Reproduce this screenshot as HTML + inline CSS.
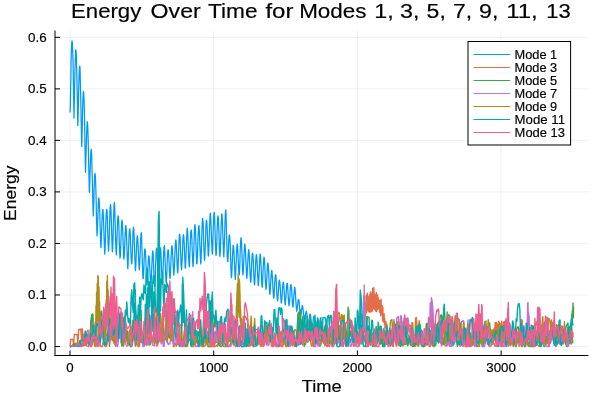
<!DOCTYPE html>
<html><head><meta charset="utf-8"><title>Energy Over Time</title>
<style>html,body{margin:0;padding:0;background:#fff;}svg{display:block;}</style></head>
<body>
<svg width="600" height="400" viewBox="0 0 600 400">
<defs><clipPath id="c"><rect x="55.0" y="30.5" width="533.4" height="325.0"/></clipPath></defs>
<rect width="600" height="400" fill="#fff"/>
<path d="M70.00,30.5V355.5M213.70,30.5V355.5M357.40,30.5V355.5M501.10,30.5V355.5M55.0,346.50H588.4M55.0,294.97H588.4M55.0,243.44H588.4M55.0,191.91H588.4M55.0,140.38H588.4M55.0,88.85H588.4M55.0,37.32H588.4" stroke="#000" stroke-opacity="0.1" stroke-width="0.6" fill="none"/>
<g fill="none" stroke-width="1.4" stroke-linejoin="round" stroke-linecap="butt" clip-path="url(#c)">
<path stroke="#009AFA" stroke-width="1.25" d="M70.0,112.5 70.3,106.5 70.6,90.2 70.9,74.9 71.1,61.6 71.4,50.9 71.7,43.6 72.0,40.8 72.3,42.2 72.6,47.9 72.9,57.3 73.2,70.0 73.4,85.1 73.7,101.5 74.0,118.2 74.3,102.9 74.6,87.9 74.9,74.2 75.2,62.7 75.5,54.3 75.7,49.8 76.0,50.2 76.3,55.2 76.6,64.4 76.9,77.0 77.2,92.1 77.5,108.5 77.8,125.5 78.0,122.2 78.3,108.0 78.6,94.4 78.9,82.4 79.2,73.0 79.5,67.3 79.8,66.1 80.1,70.3 80.3,78.9 80.6,91.2 80.9,106.2 81.2,122.5 81.5,138.8 81.8,146.5 82.1,134.0 82.4,121.4 82.6,109.6 82.9,100.0 83.2,93.6 83.5,91.4 83.8,94.2 84.1,101.5 84.4,112.8 84.7,126.8 84.9,142.4 85.2,157.9 85.5,172.3 85.8,163.6 86.1,152.4 86.4,141.4 86.7,131.8 87.0,124.9 87.2,121.7 87.5,122.7 87.8,128.1 88.1,137.4 88.4,149.9 88.7,164.1 89.0,178.6 89.3,192.1 89.5,192.3 89.8,182.4 90.1,172.0 90.4,162.2 90.7,154.5 91.0,149.9 91.3,149.4 91.6,153.0 91.8,160.5 92.1,171.2 92.4,183.8 92.7,196.9 93.0,209.1 93.3,215.9 93.6,208.0 93.9,198.8 94.1,189.5 94.4,181.3 94.7,175.6 95.0,173.4 95.3,175.3 95.6,181.3 95.9,190.7 96.2,202.2 96.4,214.5 96.7,226.1 97.0,235.8 97.3,231.8 97.6,223.8 97.9,215.1 98.2,207.1 98.5,201.1 98.7,198.0 99.0,198.6 99.3,202.6 99.6,209.1 99.9,218.0 100.2,228.2 100.5,238.1 100.8,246.7 101.0,247.7 101.3,240.7 101.6,232.2 101.9,223.7 102.2,216.2 102.5,211.2 102.8,209.4 103.1,211.2 103.3,215.7 103.6,223.1 103.9,232.1 104.2,241.4 104.5,249.5 104.8,254.2 105.1,248.2 105.4,239.6 105.6,230.1 105.9,221.0 106.2,213.8 106.5,209.7 106.8,209.4 107.1,212.7 107.4,219.3 107.6,227.9 107.9,237.2 108.2,245.4 108.5,251.2 108.8,248.2 109.1,240.8 109.4,231.4 109.7,221.5 109.9,212.7 110.2,206.6 110.5,204.5 110.8,206.9 111.1,213.4 111.4,222.7 111.7,233.3 112.0,243.2 112.2,250.7 112.5,251.8 112.8,245.1 113.1,235.6 113.4,224.6 113.7,214.2 114.0,206.2 114.3,202.3 114.5,203.5 114.8,210.3 115.1,220.3 115.4,231.6 115.7,242.3 116.0,250.5 116.3,254.9 116.6,250.5 116.8,243.2 117.1,234.4 117.4,225.9 117.7,219.2 118.0,215.9 118.3,216.3 118.6,219.9 118.9,226.8 119.1,235.6 119.4,244.8 119.7,252.7 120.0,258.1 120.3,256.6 120.6,250.7 120.9,242.7 121.2,234.1 121.4,226.6 121.7,221.6 122.0,220.0 122.3,222.3 122.6,227.9 122.9,235.7 123.2,244.3 123.5,252.0 123.7,257.7 124.0,259.2 124.3,255.2 124.6,248.8 124.9,241.2 125.2,233.8 125.5,228.1 125.8,225.4 126.0,226.3 126.3,230.7 126.6,238.1 126.9,247.1 127.2,256.2 127.5,263.8 127.8,268.6 128.1,264.6 128.3,257.6 128.6,249.0 128.9,240.5 129.2,233.6 129.5,229.5 129.8,228.9 130.1,231.5 130.4,237.2 130.6,244.7 130.9,252.6 131.2,259.4 131.5,263.9 131.8,263.6 132.1,258.5 132.4,251.2 132.7,242.9 132.9,235.1 133.2,229.5 133.5,227.1 133.8,228.8 134.1,234.8 134.4,243.2 134.7,252.6 135.0,261.4 135.2,268.1 135.5,270.6 135.8,265.9 136.1,258.9 136.4,251.0 136.7,243.6 137.0,238.2 137.3,235.7 137.5,236.5 137.8,239.6 138.1,245.4 138.4,252.6 138.7,259.9 139.0,266.0 139.3,269.8 139.6,267.7 139.8,262.3 140.1,254.8 140.4,246.5 140.7,239.1 141.0,234.0 141.3,232.7 141.6,236.7 141.8,244.2 142.1,253.6 142.4,263.6 142.7,272.3 143.0,278.5 143.3,278.7 143.6,273.9 143.9,267.2 144.1,260.0 144.4,253.7 144.7,249.8 145.0,248.8 145.3,250.4 145.6,255.0 145.9,261.8 146.2,269.5 146.4,276.7 146.7,282.4 147.0,284.8 147.3,281.4 147.6,275.9 147.9,269.4 148.2,263.2 148.5,258.4 148.7,255.9 149.0,256.3 149.3,258.7 149.6,263.7 149.9,270.2 150.2,277.1 150.5,283.1 150.8,287.0 151.0,285.0 151.3,279.6 151.6,272.3 151.9,264.5 152.2,257.4 152.5,252.6 152.8,250.8 153.1,252.7 153.3,257.8 153.6,265.2 153.9,273.4 154.2,280.8 154.5,286.2 154.8,286.6 155.1,281.4 155.4,273.9 155.6,265.3 155.9,257.2 156.2,251.1 156.5,248.1 156.8,249.1 157.1,253.5 157.4,260.7 157.7,269.1 157.9,277.2 158.2,283.6 158.5,286.8 158.8,282.5 159.1,275.7 159.4,267.3 159.7,259.0 160.0,252.2 160.2,248.2 160.5,247.8 160.8,250.9 161.1,256.9 161.4,264.8 161.7,272.9 162.0,279.9 162.3,284.4 162.5,282.5 162.8,276.6 163.1,268.7 163.4,260.2 163.7,252.6 164.0,247.4 164.3,245.5 164.6,247.8 164.8,253.3 165.1,260.9 165.4,269.1 165.7,276.5 166.0,281.8 166.3,282.8 166.6,277.9 166.9,271.2 167.1,263.7 167.4,256.8 167.7,251.9 168.0,249.7 168.3,249.9 168.6,253.1 168.9,258.4 169.2,264.8 169.4,271.1 169.7,276.0 170.0,278.7 170.3,275.5 170.6,270.0 170.9,263.2 171.2,256.2 171.5,250.4 171.7,246.7 172.0,245.7 172.3,247.8 172.6,252.4 172.9,258.6 173.2,265.3 173.5,271.2 173.8,275.1 174.0,274.0 174.3,269.0 174.6,262.0 174.9,254.4 175.2,247.3 175.5,242.2 175.8,240.0 176.1,241.0 176.3,245.2 176.6,251.6 176.9,259.1 177.2,266.1 177.5,271.4 177.8,272.8 178.1,268.1 178.3,260.9 178.6,252.5 178.9,244.3 179.2,237.7 179.5,234.1 179.8,234.5 180.1,238.4 180.4,244.8 180.6,252.6 180.9,260.2 181.2,266.3 181.5,269.8 181.8,266.9 182.1,261.1 182.4,253.7 182.7,246.2 182.9,239.9 183.2,236.0 183.5,234.6 183.8,236.6 184.1,241.6 184.4,248.6 184.7,256.3 185.0,263.3 185.2,268.2 185.5,267.6 185.8,262.0 186.1,254.2 186.4,245.3 186.7,237.1 187.0,230.9 187.3,228.0 187.5,229.6 187.8,234.7 188.1,242.2 188.4,250.8 188.7,258.7 189.0,264.7 189.3,267.0 189.6,262.6 189.8,255.8 190.1,247.7 190.4,239.8 190.7,233.7 191.0,230.4 191.3,230.1 191.6,233.2 191.9,239.3 192.1,247.2 192.4,255.3 192.7,262.2 193.0,266.6 193.3,263.8 193.6,257.2 193.9,248.6 194.2,239.5 194.4,231.4 194.7,226.0 195.0,224.7 195.3,227.3 195.6,233.4 195.9,241.6 196.2,250.5 196.5,258.3 196.7,263.8 197.0,263.9 197.3,258.5 197.6,250.9 197.9,242.3 198.2,234.4 198.5,228.7 198.8,225.6 199.0,226.1 199.3,230.3 199.6,237.3 199.9,245.9 200.2,254.3 200.5,260.9 200.8,264.0 201.1,259.1 201.3,251.2 201.6,241.5 201.9,231.8 202.2,223.7 202.5,218.7 202.8,218.6 203.1,222.6 203.4,229.9 203.6,238.9 203.9,248.0 204.2,255.6 204.5,260.3 204.8,258.0 205.1,251.5 205.4,243.2 205.7,234.6 205.9,227.1 206.2,222.3 206.5,220.2 206.8,221.7 207.1,226.7 207.4,234.0 207.7,242.3 208.0,249.9 208.2,255.4 208.5,256.0 208.8,250.4 209.1,242.2 209.4,232.7 209.7,223.6 210.0,216.4 210.3,213.1 210.5,213.9 210.8,218.5 211.1,226.0 211.4,234.8 211.7,243.4 212.0,250.1 212.3,254.1 212.6,250.0 212.8,243.0 213.1,234.1 213.4,225.1 213.7,217.5 214.0,212.9 214.3,212.5 214.6,216.3 214.8,223.4 215.1,232.5 215.4,241.9 215.7,250.0 216.0,255.5 216.3,254.1 216.6,248.0 216.9,239.8 217.1,231.0 217.4,223.2 217.7,218.0 218.0,215.9 218.3,217.6 218.6,223.0 218.9,231.0 219.2,240.1 219.4,248.6 219.7,254.9 220.0,256.5 220.3,251.2 220.6,243.2 220.9,233.9 221.2,224.8 221.5,217.7 221.7,214.0 222.0,214.3 222.3,218.6 222.6,226.0 222.9,235.3 223.2,244.6 223.5,252.2 223.8,256.9 224.0,253.2 224.3,245.8 224.6,236.1 224.9,225.8 225.2,216.9 225.5,211.1 225.8,209.8 226.1,215.3 226.3,224.4 226.6,235.3 226.9,246.1 227.2,255.2 227.5,261.2 227.8,261.7 228.1,257.3 228.4,251.0 228.6,244.2 228.9,238.5 229.2,235.2 229.5,235.0 229.8,237.2 230.1,242.6 230.4,250.5 230.7,259.5 230.9,268.2 231.2,275.3 231.5,277.6 231.8,273.4 232.1,267.0 232.4,259.7 232.7,252.8 233.0,247.6 233.2,245.3 233.5,245.5 233.8,248.8 234.1,254.6 234.4,262.0 234.7,269.5 235.0,275.8 235.3,279.5 235.5,276.7 235.8,270.9 236.1,263.6 236.4,256.0 236.7,249.6 237.0,245.6 237.3,244.1 237.6,245.8 237.8,250.4 238.1,256.9 238.4,264.0 238.7,270.4 239.0,274.9 239.3,274.7 239.6,269.7 239.9,262.5 240.1,254.2 240.4,246.4 240.7,240.5 241.0,237.6 241.3,239.2 241.6,244.1 241.9,251.2 242.2,259.3 242.4,266.7 242.7,272.2 243.0,274.9 243.3,271.4 243.6,265.7 243.9,258.9 244.2,252.2 244.5,246.9 244.7,244.2 245.0,244.5 245.3,247.9 245.6,253.7 245.9,260.9 246.2,268.2 246.5,274.3 246.8,278.3 247.0,276.8 247.3,272.2 247.6,266.1 247.9,259.7 248.2,254.2 248.5,250.7 248.8,249.7 249.1,251.8 249.3,256.5 249.6,263.0 249.9,270.2 250.2,276.7 250.5,281.5 250.8,282.1 251.1,278.2 251.3,272.3 251.6,265.7 251.9,259.6 252.2,255.1 252.5,253.1 252.8,253.9 253.1,257.6 253.4,263.4 253.6,270.2 253.9,276.9 254.2,282.2 254.5,285.0 254.8,281.8 255.1,276.5 255.4,270.0 255.7,263.5 255.9,258.2 256.2,255.1 256.5,254.7 256.8,257.2 257.1,262.2 257.4,268.8 257.7,275.7 258.0,281.6 258.2,285.6 258.5,284.4 258.8,279.6 259.1,273.1 259.4,266.1 259.7,259.7 260.0,255.3 260.3,254.0 260.5,255.8 260.8,260.5 261.1,267.2 261.4,274.5 261.7,281.2 262.0,286.2 262.3,287.3 262.6,283.3 262.8,277.4 263.1,270.6 263.4,264.2 263.7,259.4 264.0,257.2 264.3,258.1 264.6,261.8 264.9,267.6 265.1,274.3 265.4,280.8 265.7,286.0 266.0,289.4 266.3,287.0 266.6,282.5 266.9,276.7 267.2,270.8 267.4,266.0 267.7,263.2 268.0,263.2 268.3,265.9 268.6,271.0 268.9,277.5 269.2,284.2 269.5,290.1 269.7,294.2 270.0,293.8 270.3,290.1 270.6,284.9 270.9,279.4 271.2,274.5 271.5,271.4 271.8,270.3 272.0,271.7 272.3,275.5 272.6,280.9 272.9,287.0 273.2,292.7 273.5,297.0 273.8,298.4 274.1,295.5 274.3,290.9 274.6,285.6 274.9,280.5 275.2,276.6 275.5,274.7 275.8,275.3 276.1,278.2 276.4,282.9 276.6,288.4 276.9,293.9 277.2,298.3 277.5,301.0 277.8,299.4 278.1,295.8 278.4,291.3 278.7,286.6 278.9,282.8 279.2,280.6 279.5,280.2 279.8,281.9 280.1,285.4 280.4,290.1 280.7,295.2 281.0,299.7 281.2,302.9 281.5,302.9 281.8,299.8 282.1,295.5 282.4,290.8 282.7,286.4 283.0,283.4 283.3,282.1 283.5,282.9 283.8,285.7 284.1,290.0 284.4,295.0 284.7,299.7 285.0,303.3 285.3,304.8 285.5,302.3 285.8,298.4 286.1,293.7 286.4,289.0 286.7,285.3 287.0,283.3 287.3,283.4 287.6,285.6 287.8,289.4 288.1,294.3 288.4,299.1 288.7,303.2 289.0,305.8 289.3,304.5 289.6,301.1 289.9,296.7 290.1,292.0 290.4,287.9 290.7,285.3 291.0,284.6 291.3,286.1 291.6,289.4 291.9,294.0 292.2,298.9 292.4,303.3 292.7,306.5 293.0,307.0 293.3,304.3 293.6,300.2 293.9,295.5 294.2,291.1 294.5,287.8 294.7,287.1 295.0,288.7 295.3,292.0 295.6,296.6 295.9,301.5 296.2,306.0 296.5,309.4 296.8,311.3 297.0,310.0 297.3,307.6 297.6,304.8 297.9,302.2 298.2,300.4 298.5,299.4 298.8,299.7 299.1,301.5 299.3,304.5 299.6,308.2 299.9,312.0 300.2,315.3 300.5,317.4 300.8,317.0 301.1,315.0 301.4,312.4 301.6,309.6 301.9,307.3 302.2,305.9 302.5,305.8 302.8,306.9 303.1,309.2 303.4,312.2 303.7,315.5 303.9,318.4 304.2,320.6 304.5,321.2 304.8,319.9 305.1,317.9 305.4,315.6 305.7,313.4 306.0,311.9 306.2,311.2 306.5,311.7 306.8,313.3 307.1,315.8 307.4,318.8 307.7,321.7 308.0,324.0 308.3,325.4 308.5,324.3 308.8,322.3 309.1,319.9 309.4,317.4 309.7,315.3 310.0,314.1 310.3,314.1 310.6,315.3 310.8,317.4 311.1,320.2 311.4,323.1 311.7,325.6 312.0,327.3 312.3,327.1 312.6,325.5 312.9,323.1 313.1,320.5 313.4,318.2 313.7,316.6 314.0,316.1 314.3,316.8 314.6,318.6 314.9,321.3 315.2,324.3 315.4,327.1 315.7,329.3 316.0,330.0 316.3,328.5 316.6,326.2 316.9,323.4 317.2,320.8 317.5,318.7 317.7,317.8 318.0,318.3 318.3,319.9 318.6,322.4 318.9,325.4 319.2,328.4 319.5,330.7 319.8,332.2 320.0,331.3 320.3,329.4 320.6,327.1 320.9,324.7 321.2,322.8 321.5,321.8 321.8,321.8 322.0,322.9 322.3,324.8 322.6,327.3 322.9,330.0 323.2,332.2 323.5,333.8 323.8,333.8 324.1,332.5 324.3,330.5 324.6,328.4 324.9,326.5 325.2,325.3 325.5,324.9 325.8,325.5 326.1,327.0 326.4,329.1 326.6,331.4 326.9,333.6 327.2,335.2 327.5,335.9 327.8,334.9 328.1,333.4 328.4,331.6 328.7,329.8 328.9,328.5 329.2,327.8 329.5,328.0 329.8,329.0 330.1,330.7 330.4,332.7 330.7,334.7 331.0,336.3 331.2,337.4 331.5,336.9 331.8,335.7 332.1,334.1 332.4,332.4 332.7,331.0 333.0,330.1 333.3,330.0 333.5,330.7 333.8,332.1 334.1,333.9 334.4,335.8 334.7,337.4 335.0,338.7 335.3,338.7 335.6,337.7 335.8,336.2 336.1,334.6 336.4,333.0 336.7,331.9 337.0,331.4 337.3,331.7 337.6,332.7 337.9,334.3 338.1,336.0 338.4,337.7 338.7,339.1 339.0,339.7 339.3,338.9 339.6,337.6 339.9,335.9 340.2,334.3 340.4,333.0 340.7,332.3 341.0,332.3 341.3,333.0 341.6,334.4 341.9,336.2 342.2,337.9 342.5,339.4 342.7,340.4 343.0,340.1 343.3,338.9 343.6,337.3 343.9,335.6 344.2,334.2 344.5,333.2 344.8,333.0 345.0,333.5 345.3,334.6 345.6,336.3 345.9,338.1 346.2,339.7 346.5,340.9 346.8,341.1 347.1,340.1 347.3,338.7 347.6,337.0 347.9,335.4 348.2,334.3 348.5,333.7 348.8,334.0 349.1,334.9 349.4,336.4 349.6,338.2 349.9,339.9 350.2,341.3 350.5,342.0 350.8,341.2 351.1,339.9 351.4,338.2 351.7,336.5 351.9,335.2 352.2,334.4 352.5,334.3 352.8,335.0 353.1,336.3 353.4,337.9 353.7,339.7 354.0,341.1 354.2,342.1 354.5,341.9 354.8,340.7 355.1,339.2 355.4,337.5 355.7,336.0 356.0,335.0 356.3,334.6 356.5,335.0 356.8,336.1 357.1,337.7 357.4,339.4 357.7,341.0 358.0,342.1 358.3,342.4 358.5,341.5 358.8,340.1 359.1,338.4 359.4,336.8 359.7,335.6 360.0,335.0 360.3,335.2 360.6,336.0 360.8,337.4 361.1,339.1 361.4,340.7 361.7,342.1 362.0,342.9 362.3,342.2 362.6,340.9 362.9,339.4 363.1,337.7 363.4,336.4 363.7,335.6 364.0,335.4 364.3,336.0 364.6,337.2 364.9,338.8 365.2,340.5 365.4,342.0 365.7,343.0 366.0,342.8 366.3,341.8 366.6,340.3 366.9,338.7 367.2,337.2 367.5,336.2 367.7,335.8 368.0,336.1 368.3,337.1 368.6,338.6 368.9,340.2 369.2,341.8 369.5,343.0 369.8,343.4 370.0,342.5 370.3,341.1 370.6,339.5 370.9,338.0 371.2,336.8 371.5,336.1 371.8,336.2 372.1,336.9 372.3,338.2 372.6,339.8 372.9,341.4 373.2,342.7 373.5,343.5 373.8,342.9 374.1,341.7 374.4,340.2 374.6,338.6 374.9,337.3 375.2,336.4 375.5,336.2 375.8,336.7 376.1,337.8 376.4,339.3 376.7,340.9 376.9,342.3 377.2,343.3 377.5,343.3 377.8,342.3 378.1,340.9 378.4,339.3 378.7,337.8 379.0,336.8 379.2,336.3 379.5,336.6 379.8,337.5 380.1,338.8 380.4,340.4 380.7,341.9 381.0,343.1 381.3,343.6 381.5,342.8 381.8,341.5 382.1,340.0 382.4,338.4 382.7,337.2 383.0,336.5 383.3,336.5 383.6,337.2 383.8,338.4 384.1,340.0 384.4,341.5 384.7,342.8 385.0,343.7 385.3,343.2 385.6,342.1 385.9,340.6 386.1,339.1 386.4,337.7 386.7,336.8 387.0,336.6 387.3,337.0 387.6,338.0 387.9,339.5 388.2,341.1 388.4,342.5 388.7,343.5 389.0,343.6 389.3,342.6 389.6,341.3 389.9,339.7 390.2,338.3 390.5,337.2 390.7,336.7 391.0,336.9 391.3,337.7 391.6,339.0 391.9,340.6 392.2,342.1 392.5,343.2 392.8,343.8 393.0,343.1 393.3,341.9 393.6,340.4 393.9,338.9 394.2,337.6 394.5,336.9 394.8,336.9 395.0,337.5 395.3,338.6 395.6,340.1 395.9,341.6 396.2,342.9 396.5,343.8 396.8,343.5 397.1,342.4 397.3,341.0 397.6,339.5 397.9,338.2 398.2,337.2 398.5,337.0 398.8,337.3 399.1,338.3 399.4,339.7 399.6,341.2 399.9,342.6 400.2,343.6 400.5,343.8 400.8,342.9 401.1,341.6 401.4,340.0 401.7,338.5 401.9,337.4 402.2,336.8 402.5,336.9 402.8,337.7 403.1,338.9 403.4,340.4 403.7,341.9 404.0,343.1 404.2,343.9 404.5,343.1 404.8,341.9 405.1,340.3 405.4,338.7 405.7,337.4 406.0,336.6 406.3,336.4 406.5,337.0 406.8,338.1 407.1,339.6 407.4,341.2 407.7,342.6 408.0,343.5 408.3,343.3 408.6,342.2 408.8,340.7 409.1,339.0 409.4,337.5 409.7,336.4 410.0,336.0 410.3,336.3 410.6,337.3 410.9,338.7 411.1,340.4 411.4,342.0 411.7,343.1 412.0,343.4 412.3,342.5 412.6,341.0 412.9,339.3 413.2,337.7 413.4,336.4 413.7,335.7 414.0,335.7 414.3,336.5 414.6,337.9 414.9,339.5 415.2,341.2 415.5,342.6 415.7,343.4 416.0,342.8 416.3,341.4 416.6,339.7 416.9,338.0 417.2,336.4 417.5,335.5 417.8,335.2 418.0,335.8 418.3,337.0 418.6,338.6 418.9,340.4 419.2,342.0 419.5,343.1 419.8,343.0 420.1,341.8 420.3,340.1 420.6,338.3 420.9,336.6 421.2,335.4 421.5,334.9 421.8,335.1 422.1,336.2 422.4,337.7 422.6,339.5 422.9,341.3 423.2,342.6 423.5,343.1 423.8,342.1 424.1,340.6 424.4,338.7 424.7,336.9 424.9,335.4 425.2,334.6 425.5,334.6 425.8,335.4 426.1,336.8 426.4,338.6 426.7,340.5 427.0,342.0 427.2,343.0 427.5,342.4 427.8,341.0 428.1,339.1 428.4,337.2 428.7,335.5 429.0,334.4 429.2,334.1 429.5,334.6 429.8,335.9 430.1,337.7 430.4,339.7 430.7,341.4 431.0,342.7 431.3,342.7 431.5,341.5 431.8,339.8 432.1,337.9 432.4,336.2 432.7,334.9 433.0,334.3 433.3,334.6 433.6,335.7 433.8,337.3 434.1,339.2 434.4,341.0 434.7,342.4 435.0,343.1 435.3,342.2 435.6,340.7 435.9,338.9 436.1,337.1 436.4,335.6 436.7,334.8 437.0,334.8 437.3,335.5 437.6,337.0 437.9,338.8 438.2,340.6 438.4,342.1 438.7,343.1 439.0,342.7 439.3,341.5 439.6,339.8 439.9,338.0 440.2,336.4 440.5,335.4 440.7,335.1 441.0,335.6 441.3,336.7 441.6,338.4 441.9,340.2 442.2,341.8 442.5,343.0 442.8,343.2 443.0,342.2 443.3,340.6 443.6,338.9 443.9,337.3 444.2,336.0 444.5,335.5 444.8,335.7 445.1,336.6 445.3,338.0 445.6,339.8 445.9,341.5 446.2,342.8 446.5,343.5 446.8,342.7 447.1,341.4 447.4,339.8 447.6,338.1 447.9,336.8 448.2,336.0 448.5,335.9 448.8,336.5 449.1,337.8 449.4,339.4 449.7,341.1 449.9,342.5 450.2,343.5 450.5,343.2 450.8,342.1 451.1,340.6 451.4,339.0 451.7,337.5 452.0,336.6 452.2,336.2 452.5,336.6 452.8,337.6 453.1,339.1 453.4,340.7 453.7,342.2 454.0,343.4 454.3,343.6 454.5,342.8 454.8,341.4 455.1,339.8 455.4,338.3 455.7,337.2 456.0,336.6 456.3,336.8 456.6,337.5 456.8,338.8 457.1,340.4 457.4,341.9 457.7,343.2 458.0,343.9 458.3,343.3 458.6,342.1 458.9,340.7 459.1,339.2 459.4,337.9 459.7,337.2 460.0,337.0 460.3,337.5 460.6,338.6 460.9,340.0 461.2,341.5 461.4,342.8 461.7,343.8 462.0,343.6 462.3,342.6 462.6,341.2 462.9,339.6 463.2,338.2 463.5,337.2 463.7,336.8 464.0,337.0 464.3,337.9 464.6,339.3 464.9,340.8 465.2,342.3 465.5,343.4 465.7,343.8 466.0,342.9 466.3,341.6 466.6,340.0 466.9,338.5 467.2,337.2 467.5,336.6 467.8,336.6 468.0,337.3 468.3,338.5 468.6,340.1 468.9,341.7 469.2,343.0 469.5,343.8 469.8,343.2 470.1,342.0 470.3,340.5 470.6,338.8 470.9,337.4 471.2,336.5 471.5,336.2 471.8,336.7 472.1,337.8 472.4,339.3 472.6,341.0 472.9,342.4 473.2,343.5 473.5,343.5 473.8,342.4 474.1,340.9 474.4,339.2 474.7,337.7 474.9,336.5 475.2,336.0 475.5,336.2 475.8,337.1 476.1,338.6 476.4,340.2 476.7,341.8 477.0,343.1 477.2,343.6 477.5,342.8 477.8,341.4 478.1,339.7 478.4,338.0 478.7,336.6 479.0,335.8 479.3,335.8 479.5,336.5 479.8,337.8 480.1,339.5 480.4,341.2 480.7,342.6 481.0,343.5 481.3,343.1 481.6,341.8 481.8,340.1 482.1,338.4 482.4,336.8 482.7,335.8 483.0,335.5 483.3,335.9 483.6,337.1 483.9,338.7 484.1,340.4 484.4,342.0 484.7,343.2 485.0,343.3 485.3,342.2 485.6,340.6 485.9,338.8 486.2,337.1 486.4,335.9 486.7,335.2 487.0,335.4 487.3,336.4 487.6,337.9 487.9,339.6 488.2,341.4 488.5,342.8 488.7,343.5 489.0,342.6 489.3,341.1 489.6,339.3 489.9,337.5 490.2,336.0 490.5,335.1 490.8,335.0 491.0,335.7 491.3,337.0 491.6,338.8 491.9,340.6 492.2,342.2 492.5,343.2 492.8,342.8 493.1,341.5 493.3,339.8 493.6,337.9 493.9,336.3 494.2,335.1 494.5,334.7 494.8,335.1 495.1,336.3 495.4,337.9 495.6,339.8 495.9,341.5 496.2,342.7 496.5,343.0 496.8,341.9 497.1,340.2 497.4,338.4 497.7,336.6 497.9,335.2 498.2,334.5 498.5,334.6 498.8,335.5 499.1,337.0 499.4,338.9 499.7,340.7 500.0,342.1 500.2,343.0 500.5,342.1 500.8,340.7 501.1,338.8 501.4,337.0 501.7,335.4 502.0,334.4 502.2,334.2 502.5,334.9 502.8,336.2 503.1,338.0 503.4,339.8 503.7,341.5 504.0,342.6 504.3,342.3 504.5,341.0 504.8,339.3 505.1,337.4 505.4,335.6 505.7,334.4 506.0,333.9 506.3,334.3 506.6,335.4 506.8,337.1 507.1,339.0 507.4,340.7 507.7,342.0 508.0,342.4 508.3,341.4 508.6,339.8 508.9,337.8 509.1,336.0 509.4,334.5 509.7,333.8 510.0,333.8 510.3,334.7 510.6,336.2 510.9,338.0 511.2,339.9 511.4,341.4 511.7,342.4 512.0,341.6 512.3,340.2 512.6,338.3 512.9,336.4 513.2,334.7 513.5,333.7 513.7,333.4 514.0,334.0 514.3,335.3 514.6,337.1 514.9,339.0 515.2,340.7 515.5,341.9 515.8,341.8 516.0,340.6 516.3,338.8 516.6,336.8 516.9,335.0 517.2,333.7 517.5,333.2 517.8,333.5 518.1,334.5 518.3,336.2 518.6,338.1 518.9,340.0 519.2,341.4 519.5,341.9 519.8,340.9 520.1,339.3 520.4,337.4 520.6,335.5 520.9,334.0 521.2,333.2 521.5,333.2 521.8,334.0 522.1,335.6 522.4,337.5 522.7,339.4 522.9,341.0 523.2,342.1 523.5,341.5 523.8,340.1 524.1,338.3 524.4,336.3 524.7,334.7 525.0,333.6 525.2,333.3 525.5,333.8 525.8,335.1 526.1,336.9 526.4,338.9 526.7,340.7 527.0,342.0 527.3,342.0 527.5,340.9 527.8,339.1 528.1,337.2 528.4,335.4 528.7,334.1 529.0,333.5 529.3,333.7 529.6,334.8 529.8,336.4 530.1,338.4 530.4,340.3 530.7,341.8 531.0,342.5 531.3,341.5 531.6,340.0 531.9,338.1 532.1,336.2 532.4,334.7 532.7,333.8 533.0,333.7 533.3,334.5 533.6,336.0 533.9,337.9 534.2,339.8 534.4,341.5 534.7,342.6 535.0,342.2 535.3,340.8 535.6,339.0 535.9,337.1 536.2,335.4 536.5,334.2 536.7,333.8 537.0,334.3 537.3,335.6 537.6,337.4 537.9,339.3 538.2,341.1 538.5,342.5 538.7,342.7 539.0,341.6 539.3,339.9 539.6,337.9 539.9,336.1 540.2,334.7 540.5,334.1 540.8,334.3 541.0,335.3 541.3,336.9 541.6,338.9 541.9,340.7 542.2,342.3 542.5,343.1 542.8,342.2 543.1,340.8 543.3,338.9 543.6,337.1 543.9,335.5 544.2,334.6 544.5,334.5 544.8,335.2 545.1,336.6 545.4,338.4 545.6,340.3 545.9,342.0 546.2,343.1 546.5,342.8 546.8,341.6 547.1,339.9 547.4,338.0 547.7,336.4 547.9,335.2 548.2,334.8 548.5,335.2 548.8,336.4 549.1,338.1 549.4,339.9 549.7,341.7 550.0,343.0 550.2,343.3 550.5,342.3 550.8,340.8 551.1,339.0 551.4,337.3 551.7,335.9 552.0,335.3 552.3,335.4 552.5,336.3 552.8,337.8 553.1,339.6 553.4,341.3 553.7,342.8 554.0,343.7 554.3,343.0 554.6,341.6 554.8,339.9 555.1,338.2 555.4,336.7 555.7,335.8 556.0,335.6 556.3,336.2 556.6,337.5 556.9,339.2 557.1,341.0 557.4,342.5 557.7,343.6 558.0,343.5 558.3,342.4 558.6,340.8 558.9,339.1 559.2,337.5 559.4,336.4 559.7,336.0 560.0,336.3 560.3,337.3 560.6,338.8 560.9,340.6 561.2,342.2 561.5,343.4 561.7,343.9 562.0,343.0 562.3,341.6 562.6,339.9 562.9,338.3 563.2,337.0 563.5,336.3 563.8,336.4 564.0,337.1 564.3,338.5 564.6,340.1 564.9,341.7 565.2,343.1 565.5,343.9 565.8,343.4 566.1,342.2 566.3,340.6 566.6,339.0 566.9,337.6 567.2,336.8 567.5,336.5 567.8,337.0 568.1,338.1 568.4,339.6 568.6,341.3 568.9,342.7 569.2,343.7 569.5,343.7 569.8,342.7 570.1,341.3 570.4,339.8 570.7,338.3 570.9,337.3 571.2,336.8 571.5,337.0 571.8,337.9 572.1,339.3 572.4,340.8 572.7,342.3 573.0,343.4"/>
<path stroke="#E36F47" d="M70.0,346.5 70.7,339.5 71.4,339.5 72.2,339.5 72.9,339.5 73.6,345.7 74.3,334.5 75.0,334.5 75.7,334.5 76.5,334.5 77.2,334.5 77.9,344.5 78.6,329.5 79.3,329.3 80.1,329.5 80.8,329.0 81.5,341.0 82.2,328.8 82.9,334.1 83.7,336.9 84.4,334.1 85.1,336.9 85.8,339.0 86.5,345.5 87.2,346.0 88.0,346.5 88.7,346.5 89.4,343.5 90.1,344.9 90.8,346.5 91.6,346.5 92.3,344.8 93.0,333.1 93.7,332.1 94.4,331.8 95.1,343.9 95.9,346.3 96.6,344.3 97.3,342.4 98.0,344.4 98.7,346.0 99.5,344.9 100.2,344.3 100.9,346.5 101.6,346.5 102.3,346.5 103.1,342.0 103.8,328.9 104.5,343.3 105.2,346.5 105.9,346.5 106.6,345.8 107.4,337.8 108.1,328.4 108.8,340.0 109.5,346.4 110.2,339.9 111.0,327.9 111.7,327.8 112.4,327.6 113.1,338.9 113.8,343.0 114.5,339.6 115.3,345.6 116.0,346.5 116.7,339.8 117.4,326.5 118.1,326.4 118.9,326.4 119.6,327.3 120.3,329.5 121.0,326.1 121.7,328.1 122.5,341.0 123.2,346.3 123.9,344.9 124.6,339.6 125.3,339.0 126.0,339.0 126.8,329.6 127.5,332.8 128.2,342.8 128.9,340.4 129.6,338.7 130.4,346.5 131.1,346.5 131.8,345.1 132.5,338.2 133.2,333.5 133.9,327.8 134.7,327.9 135.4,328.1 136.1,329.7 136.8,328.4 137.5,333.1 138.3,342.6 139.0,346.5 139.7,344.6 140.4,332.7 141.1,334.4 141.8,342.5 142.6,343.5 143.3,341.3 144.0,338.6 144.7,328.1 145.4,329.3 146.2,342.8 146.9,345.2 147.6,343.1 148.3,337.3 149.0,341.2 149.8,345.0 150.5,344.0 151.2,338.7 151.9,336.0 152.6,341.8 153.3,342.3 154.1,341.9 154.8,335.6 155.5,326.2 156.2,334.7 156.9,346.0 157.7,345.2 158.4,336.1 159.1,335.9 159.8,328.5 160.5,331.2 161.2,338.9 162.0,326.5 162.7,330.8 163.4,342.7 164.1,343.6 164.8,338.1 165.6,324.9 166.3,323.9 167.0,323.7 167.7,323.4 168.4,334.1 169.2,338.0 169.9,335.5 170.6,326.4 171.3,321.2 172.0,320.7 172.7,337.8 173.5,346.5 174.2,346.5 174.9,343.7 175.6,343.0 176.3,346.4 177.1,343.5 177.8,333.2 178.5,338.3 179.2,345.2 179.9,346.1 180.6,344.2 181.4,332.3 182.1,317.7 182.8,318.0 183.5,318.4 184.2,318.8 185.0,325.4 185.7,329.0 186.4,335.3 187.1,346.5 187.8,344.9 188.6,323.0 189.3,323.9 190.0,324.8 190.7,325.7 191.4,337.0 192.1,336.0 192.9,339.6 193.6,341.6 194.3,342.8 195.0,339.3 195.7,330.4 196.5,330.8 197.2,335.9 197.9,339.8 198.6,343.3 199.3,343.4 200.0,340.5 200.8,343.9 201.5,345.5 202.2,344.2 202.9,346.4 203.6,346.5 204.4,346.3 205.1,345.8 205.8,345.2 206.5,338.5 207.2,332.2 208.0,332.0 208.7,332.5 209.4,339.6 210.1,342.5 210.8,344.7 211.5,343.5 212.3,342.2 213.0,344.9 213.7,344.8 214.4,340.9 215.1,331.6 215.9,332.9 216.6,337.5 217.3,326.9 218.0,326.5 218.7,326.2 219.4,332.1 220.2,340.5 220.9,344.4 221.6,343.3 222.3,336.5 223.0,339.5 223.8,346.3 224.5,346.5 225.2,346.5 225.9,346.5 226.6,344.8 227.4,344.0 228.1,345.7 228.8,346.5 229.5,346.5 230.2,344.3 230.9,339.7 231.7,344.7 232.4,342.6 233.1,326.5 233.8,334.4 234.5,344.5 235.3,346.5 236.0,346.3 236.7,341.4 237.4,339.5 238.1,339.2 238.8,341.5 239.6,345.0 240.3,345.6 241.0,344.6 241.7,344.8 242.4,343.9 243.2,339.8 243.9,340.0 244.6,340.2 245.3,336.0 246.0,339.5 246.8,340.8 247.5,336.3 248.2,342.1 248.9,345.5 249.6,345.3 250.3,346.1 251.1,344.9 251.8,338.9 252.5,339.5 253.2,344.2 253.9,343.0 254.7,330.5 255.4,330.2 256.1,329.8 256.8,329.3 257.5,328.9 258.2,339.1 259.0,340.6 259.7,329.9 260.4,336.4 261.1,342.4 261.8,339.4 262.6,341.2 263.3,344.5 264.0,345.3 264.7,341.3 265.4,336.8 266.2,344.3 266.9,345.0 267.6,338.6 268.3,324.1 269.0,324.2 269.7,324.4 270.5,335.9 271.2,345.0 271.9,346.5 272.6,346.5 273.3,341.1 274.1,336.9 274.8,340.7 275.5,345.2 276.2,346.5 276.9,346.5 277.6,345.5 278.4,345.8 279.1,346.4 279.8,342.9 280.5,342.2 281.2,346.5 282.0,346.5 282.7,346.5 283.4,343.7 284.1,331.6 284.8,334.7 285.5,338.7 286.3,331.8 287.0,331.7 287.7,346.3 288.4,346.5 289.1,345.5 289.9,345.7 290.6,342.3 291.3,337.9 292.0,344.2 292.7,346.1 293.5,343.3 294.2,330.9 294.9,329.7 295.6,329.9 296.3,331.5 297.0,339.9 297.8,342.7 298.5,336.9 299.2,331.4 299.9,338.6 300.6,343.6 301.4,341.7 302.1,327.3 302.8,327.3 303.5,334.0 304.2,335.9 304.9,335.6 305.7,333.2 306.4,329.0 307.1,329.8 307.8,331.9 308.5,338.5 309.3,339.4 310.0,328.6 310.7,328.7 311.4,328.8 312.1,339.6 312.9,346.2 313.6,346.5 314.3,345.1 315.0,340.9 315.7,338.3 316.4,340.2 317.2,341.0 317.9,343.5 318.6,340.1 319.3,330.4 320.0,336.5 320.8,335.1 321.5,337.3 322.2,337.8 322.9,329.8 323.6,340.9 324.3,343.3 325.1,336.1 325.8,327.1 326.5,324.4 327.2,326.4 327.9,342.9 328.7,346.3 329.4,346.5 330.1,344.0 330.8,340.2 331.5,342.9 332.3,346.5 333.0,346.0 333.7,335.2 334.4,329.4 335.1,339.3 335.8,343.2 336.6,344.0 337.3,344.3 338.0,334.9 338.7,325.3 339.4,325.6 340.2,345.4 340.9,346.1 341.6,344.5 342.3,333.0 343.0,327.8 343.7,328.3 344.5,331.3 345.2,337.0 345.9,342.2 346.6,345.4 347.3,342.9 348.1,340.3 348.8,342.4 349.5,331.4 350.2,331.6 350.9,331.9 351.7,332.1 352.4,337.2 353.1,345.2 353.8,346.5 354.5,344.7 355.2,333.3 356.0,337.4 356.7,338.8 357.4,334.0 358.1,342.7 358.8,346.5 359.6,344.4 360.3,334.6 361.0,334.7 361.7,338.4 362.4,338.8 363.1,334.9 363.9,334.9 364.6,334.9 365.3,334.9 366.0,334.8 366.7,334.7 367.5,334.6 368.2,340.2 368.9,343.4 369.6,343.5 370.3,340.5 371.1,333.7 371.8,333.5 372.5,333.2 373.2,336.2 373.9,344.1 374.6,346.5 375.4,346.5 376.1,344.1 376.8,341.2 377.5,340.2 378.2,340.7 379.0,339.8 379.7,340.8 380.4,342.2 381.1,342.0 381.8,341.3 382.5,342.2 383.3,343.5 384.0,345.6 384.7,344.1 385.4,336.7 386.1,335.1 386.9,334.2 387.6,337.2 388.3,339.7 389.0,341.0 389.7,345.9 390.5,346.0 391.2,338.4 391.9,340.2 392.6,346.4 393.3,346.3 394.0,341.7 394.8,329.3 395.5,329.2 396.2,332.5 396.9,328.0 397.6,334.8 398.4,344.9 399.1,345.0 399.8,342.6 400.5,342.8 401.2,342.6 401.9,345.7 402.7,344.0 403.4,328.1 404.1,327.9 404.8,331.7 405.5,344.3 406.3,344.3 407.0,341.5 407.7,342.9 408.4,342.4 409.1,338.4 409.9,340.4 410.6,344.6 411.3,344.3 412.0,341.4 412.7,339.5 413.4,343.6 414.2,345.7 414.9,339.8 415.6,318.2 416.3,317.5 417.0,325.6 417.8,330.2 418.5,327.5 419.2,320.6 419.9,326.4 420.6,333.9 421.3,333.9 422.1,331.3 422.8,336.9 423.5,340.6 424.2,338.0 424.9,339.8 425.7,335.7 426.4,323.7 427.1,334.8 427.8,333.6 428.5,317.4 429.2,318.0 430.0,318.6 430.7,319.3 431.4,320.0 432.1,338.3 432.8,346.0 433.6,346.5 434.3,342.1 435.0,323.4 435.7,324.1 436.4,324.7 437.2,328.5 437.9,325.8 438.6,333.9 439.3,340.4 440.0,335.7 440.7,327.6 441.5,327.9 442.2,336.0 442.9,341.8 443.6,339.7 444.3,343.5 445.1,345.8 445.8,345.7 446.5,346.1 447.2,342.0 447.9,333.0 448.6,341.0 449.4,345.3 450.1,346.5 450.8,346.2 451.5,343.6 452.2,340.6 453.0,339.8 453.7,342.3 454.4,340.5 455.1,330.9 455.8,330.9 456.6,342.0 457.3,343.7 458.0,343.1 458.7,343.0 459.4,341.8 460.1,333.5 460.9,330.2 461.6,336.5 462.3,340.0 463.0,338.5 463.7,333.9 464.5,336.4 465.2,336.3 465.9,338.8 466.6,345.9 467.3,346.5 468.0,346.5 468.8,346.2 469.5,344.9 470.2,342.1 470.9,341.9 471.6,337.8 472.4,332.6 473.1,339.0 473.8,334.3 474.5,333.4 475.2,336.0 476.0,329.5 476.7,329.7 477.4,329.9 478.1,335.3 478.8,335.9 479.5,337.6 480.3,337.9 481.0,330.9 481.7,331.0 482.4,343.2 483.1,344.8 483.9,337.3 484.6,338.6 485.3,340.8 486.0,331.4 486.7,339.4 487.4,344.3 488.2,342.3 488.9,346.0 489.6,346.5 490.3,346.3 491.0,345.7 491.8,343.8 492.5,330.1 493.2,330.0 493.9,338.5 494.6,339.8 495.4,341.3 496.1,343.7 496.8,340.3 497.5,332.0 498.2,329.0 498.9,339.8 499.7,332.9 500.4,329.9 501.1,330.6 501.8,330.8 502.5,331.0 503.3,333.7 504.0,331.5 504.7,331.7 505.4,344.4 506.1,345.2 506.8,338.3 507.6,339.9 508.3,345.5 509.0,345.2 509.7,344.5 510.4,345.7 511.2,337.7 511.9,334.4 512.6,344.7 513.3,346.5 514.0,343.7 514.8,335.3 515.5,335.3 516.2,340.7 516.9,343.1 517.6,335.6 518.3,334.4 519.1,332.6 519.8,331.2 520.5,330.3 521.2,330.6 521.9,342.9 522.7,343.4 523.4,344.3 524.1,345.6 524.8,346.5 525.5,346.5 526.2,343.7 527.0,342.6 527.7,345.0 528.4,345.6 529.1,346.5 529.8,346.4 530.6,342.5 531.3,340.7 532.0,332.4 532.7,332.0 533.4,331.7 534.2,331.3 534.9,330.8 535.6,339.1 536.3,344.5 537.0,345.1 537.7,345.0 538.5,345.5 539.2,346.5 539.9,345.6 540.6,327.9 541.3,325.8 542.1,325.1 542.8,335.0 543.5,339.3 544.2,323.1 544.9,328.0 545.6,340.4 546.4,342.8 547.1,344.1 547.8,340.1 548.5,334.6 549.2,334.4 550.0,334.0 550.7,325.3 551.4,319.9 552.1,323.6 552.8,325.0 553.6,322.2 554.3,320.1 555.0,336.3 555.7,346.5 556.4,346.1 557.1,342.7 557.9,341.4 558.6,328.5 559.3,321.8 560.0,326.8 560.7,344.9 561.5,341.9 562.2,335.5 562.9,341.0 563.6,341.8 564.3,339.9 565.0,338.2 565.8,338.3 566.5,340.0 567.2,342.5 567.9,340.6 568.6,327.4 569.4,327.0 570.1,326.8 570.8,326.3 571.5,328.0 572.2,337.2 573.0,337.4M364.6,320.3 364.9,308.8 365.2,314.3 365.5,302.6 365.8,314.3 366.1,295.6 366.4,312.4 366.7,294.8 367.0,310.0 367.3,293.3 367.6,308.8 367.9,296.7 368.2,311.7 368.5,300.1 368.8,309.7 369.1,295.9 369.4,311.7 369.7,294.7 370.0,312.2 370.3,292.9 370.6,311.6 370.9,291.8 371.2,311.8 371.5,299.2 371.8,305.7 372.1,293.8 372.4,311.1 372.7,288.3 373.0,309.1 373.3,297.4 373.6,308.5 373.9,287.6 374.2,303.3 374.5,293.8 374.8,309.7 375.1,297.8 375.4,310.2 375.7,294.1 376.0,311.6 376.3,292.4 376.6,311.6 376.9,299.6 377.2,310.0 377.5,294.8 377.8,308.3 378.1,297.1 378.4,308.9 378.7,299.8 379.0,306.8 379.3,300.8 379.6,312.2 379.9,300.4 380.2,312.9 380.5,302.3 380.8,315.9 381.1,299.3 381.4,312.4 381.7,306.9 382.0,314.0 382.3,305.8 382.6,320.3 382.9,307.3 383.2,321.8 383.5,313.6 383.8,320.9 384.1,313.8 384.4,324.1 384.7,318.0 385.0,328.1 385.3,323.0 385.6,327.1 385.9,321.5 386.2,327.9 386.5,323.6 386.8,332.4 387.1,325.0 387.4,336.3 387.7,331.3 388.0,334.7 388.3,333.0 388.6,336.0 388.9,331.7 389.2,341.3 389.5,333.7 389.8,342.8 390.1,335.5 390.4,344.0 390.7,337.8 391.0,345.7M493.0,338.7 493.3,332.2 493.6,337.7 493.9,328.8 494.2,335.7 494.5,328.0 494.8,331.9 495.1,322.8 495.4,329.8 495.7,324.9 496.0,331.8 496.3,322.3 496.6,334.9 496.9,324.5 497.2,335.0 497.5,324.0 497.8,335.1 498.1,324.1 498.4,330.8 498.7,321.1 499.0,333.8 499.3,322.5 499.6,332.7 499.9,324.7 500.2,329.5 500.5,326.4 500.8,333.1 501.1,324.1 501.4,333.5 501.7,321.2 502.0,334.8 502.3,326.1 502.6,333.2 502.9,325.8 503.2,334.6 503.5,321.9 503.8,331.1 504.1,322.7 504.4,334.6 504.7,321.2 505.0,330.4 505.3,322.1 505.6,336.2 505.9,324.0 506.2,336.2 506.5,327.6 506.8,338.4M519.5,336.9 519.8,328.7 520.1,337.3 520.4,325.4 520.7,333.2 521.0,319.7 521.3,336.5 521.6,319.4 521.9,336.4 522.2,320.3 522.5,331.7 522.8,325.5 523.1,337.2 523.4,331.4"/>
<path stroke="#3EA44E" d="M70.0,346.5 70.7,346.5 71.4,346.4 72.2,345.9 72.9,344.7 73.6,344.2 74.3,343.7 75.0,343.1 75.7,344.5 76.5,345.1 77.2,344.3 77.9,344.9 78.6,345.8 79.3,344.8 80.1,342.3 80.8,344.9 81.5,346.5 82.2,344.7 82.9,336.0 83.7,340.5 84.4,343.5 85.1,340.0 85.8,335.5 86.5,334.0 87.2,340.9 88.0,343.9 88.7,342.3 89.4,344.2 90.1,344.9 90.8,320.8 91.6,316.3 92.3,313.8 93.0,335.7 93.7,340.9 94.4,340.5 95.1,342.9 95.9,337.2 96.6,329.5 97.3,343.2 98.0,344.7 98.7,335.3 99.5,325.5 100.2,322.8 100.9,311.7 101.6,311.1 102.3,327.3 103.1,319.8 103.8,309.6 104.5,311.2 105.2,330.3 105.9,334.1 106.6,335.4 107.4,335.2 108.1,332.7 108.8,324.3 109.5,320.7 110.2,334.4 111.0,339.5 111.7,336.3 112.4,328.0 113.1,331.0 113.8,337.6 114.5,338.8 115.3,336.4 116.0,335.5 116.7,333.8 117.4,319.5 118.1,319.4 118.9,335.4 119.6,333.8 120.3,318.9 121.0,327.3 121.7,345.8 122.5,345.2 123.2,334.5 123.9,326.3 124.6,322.8 125.3,323.3 126.0,336.6 126.8,340.5 127.5,331.4 128.2,343.7 128.9,345.3 129.6,339.2 130.4,345.7 131.1,346.5 131.8,346.5 132.5,337.4 133.2,326.7 133.9,326.8 134.7,339.2 135.4,346.1 136.1,344.2 136.8,326.7 137.5,326.5 138.3,331.7 139.0,342.5 139.7,340.8 140.4,325.5 141.1,310.5 141.8,341.8 142.6,343.4 143.3,346.5 144.0,346.5 144.7,341.5 145.4,321.0 146.2,320.3 146.9,319.5 147.6,338.7 148.3,341.8 149.0,344.1 149.8,344.1 150.5,334.4 151.2,319.5 151.9,314.5 152.6,313.8 153.3,313.9 154.1,335.3 154.8,340.0 155.5,340.0 156.2,336.4 156.9,337.8 157.7,333.4 158.4,308.0 159.1,307.4 159.8,327.5 160.5,339.4 161.2,336.7 162.0,323.5 162.7,317.4 163.4,324.2 164.1,334.4 164.8,339.3 165.6,339.5 166.3,329.6 167.0,307.0 167.7,325.5 168.4,335.9 169.2,337.0 169.9,337.8 170.6,311.9 171.3,310.6 172.0,311.3 172.7,340.5 173.5,343.0 174.2,327.5 174.9,314.0 175.6,323.7 176.3,334.0 177.1,340.4 177.8,340.9 178.5,342.2 179.2,345.7 179.9,346.5 180.6,342.5 181.4,333.0 182.1,346.2 182.8,346.5 183.5,344.3 184.2,337.1 185.0,342.9 185.7,346.5 186.4,346.5 187.1,345.1 187.8,340.9 188.6,341.0 189.3,338.9 190.0,339.6 190.7,341.9 191.4,340.6 192.1,343.3 192.9,345.3 193.6,344.4 194.3,340.0 195.0,336.5 195.7,341.8 196.5,342.6 197.2,339.2 197.9,331.2 198.6,333.6 199.3,337.9 200.0,320.3 200.8,320.0 201.5,343.8 202.2,346.5 202.9,336.7 203.6,319.5 204.4,319.4 205.1,337.6 205.8,341.9 206.5,332.2 207.2,338.7 208.0,346.5 208.7,346.5 209.4,346.5 210.1,346.5 210.8,345.0 211.5,340.4 212.3,344.8 213.0,343.9 213.7,325.0 214.4,320.4 215.1,327.0 215.9,320.9 216.6,321.1 217.3,321.3 218.0,321.5 218.7,338.1 219.4,345.9 220.2,345.7 220.9,346.5 221.6,346.5 222.3,345.7 223.0,341.7 223.8,341.7 224.5,342.8 225.2,343.5 225.9,345.6 226.6,346.5 227.4,346.5 228.1,340.8 228.8,334.7 229.5,328.3 230.2,330.3 230.9,334.0 231.7,334.0 232.4,335.5 233.1,341.3 233.8,344.6 234.5,343.7 235.3,340.8 236.0,340.1 236.7,343.7 237.4,343.1 238.1,340.6 238.8,343.5 239.6,345.1 240.3,344.9 241.0,342.0 241.7,340.5 242.4,343.5 243.2,343.4 243.9,342.7 244.6,345.8 245.3,345.7 246.0,339.0 246.8,340.9 247.5,346.1 248.2,346.1 248.9,345.9 249.6,345.2 250.3,341.1 251.1,342.9 251.8,344.0 252.5,343.7 253.2,346.5 253.9,346.5 254.7,343.3 255.4,342.2 256.1,345.3 256.8,340.3 257.5,332.9 258.2,332.9 259.0,332.9 259.7,334.6 260.4,341.3 261.1,341.5 261.8,342.6 262.6,341.0 263.3,338.8 264.0,341.4 264.7,339.4 265.4,333.4 266.2,333.5 266.9,333.6 267.6,337.7 268.3,333.9 269.0,334.1 269.7,334.2 270.5,339.7 271.2,338.4 271.9,334.5 272.6,334.7 273.3,340.1 274.1,343.4 274.8,345.1 275.5,345.2 276.2,344.8 276.9,344.9 277.6,345.5 278.4,346.5 279.1,346.2 279.8,339.0 280.5,337.9 281.2,342.5 282.0,341.6 282.7,341.2 283.4,338.9 284.1,337.8 284.8,340.7 285.5,341.1 286.3,343.1 287.0,343.5 287.7,341.8 288.4,338.6 289.1,332.8 289.9,332.3 290.6,331.8 291.3,333.2 292.0,339.4 292.7,330.2 293.5,331.6 294.2,342.9 294.9,343.1 295.6,344.3 296.3,345.2 297.0,331.8 297.8,315.2 298.5,312.1 299.2,337.0 299.9,310.0 300.6,336.8 301.4,331.5 302.1,319.0 302.8,316.4 303.5,336.1 304.2,346.5 304.9,344.7 305.7,342.5 306.4,340.5 307.1,325.1 307.8,330.0 308.5,341.3 309.3,340.2 310.0,333.3 310.7,339.7 311.4,337.6 312.1,329.1 312.9,338.4 313.6,334.5 314.3,320.1 315.0,320.5 315.7,328.3 316.4,325.7 317.2,321.9 317.9,322.3 318.6,338.3 319.3,346.1 320.0,346.2 320.8,344.8 321.5,340.7 322.2,335.2 322.9,339.3 323.6,340.2 324.3,328.5 325.1,325.6 325.8,332.2 326.5,341.2 327.2,343.4 327.9,337.0 328.7,341.2 329.4,343.4 330.1,331.6 330.8,328.4 331.5,341.4 332.3,344.9 333.0,343.6 333.7,339.7 334.4,333.8 335.1,321.2 335.8,320.5 336.6,319.7 337.3,318.8 338.0,317.9 338.7,336.4 339.4,341.6 340.2,338.0 340.9,322.3 341.6,327.5 342.3,341.1 343.0,337.7 343.7,328.9 344.5,335.4 345.2,341.1 345.9,340.1 346.6,333.3 347.3,325.6 348.1,307.2 348.8,310.3 349.5,334.2 350.2,336.5 350.9,331.3 351.7,328.3 352.4,335.4 353.1,339.2 353.8,335.8 354.5,336.5 355.2,341.8 356.0,342.1 356.7,341.1 357.4,340.6 358.1,343.1 358.8,336.7 359.6,325.1 360.3,328.1 361.0,340.2 361.7,343.6 362.4,335.0 363.1,315.0 363.9,315.3 364.6,315.6 365.3,315.9 366.0,316.2 366.7,324.3 367.5,316.8 368.2,317.0 368.9,317.2 369.6,329.0 370.3,336.5 371.1,338.4 371.8,341.2 372.5,346.5 373.2,346.3 373.9,333.5 374.6,332.8 375.4,337.9 376.1,340.9 376.8,345.3 377.5,338.0 378.2,322.1 379.0,327.1 379.7,344.2 380.4,344.1 381.1,334.5 381.8,340.7 382.5,343.5 383.3,343.4 384.0,346.5 384.7,346.5 385.4,334.7 386.1,334.5 386.9,339.9 387.6,339.7 388.3,342.0 389.0,344.0 389.7,338.5 390.5,330.8 391.2,331.1 391.9,341.9 392.6,338.5 393.3,331.7 394.0,332.5 394.8,332.0 395.5,333.4 396.2,333.8 396.9,332.2 397.6,332.2 398.4,334.3 399.1,345.5 399.8,344.5 400.5,342.9 401.2,341.8 401.9,340.1 402.7,333.6 403.4,330.7 404.1,330.4 404.8,331.9 405.5,338.5 406.3,334.7 407.0,338.6 407.7,342.7 408.4,340.0 409.1,341.2 409.9,341.1 410.6,331.6 411.3,331.3 412.0,340.8 412.7,346.2 413.4,346.5 414.2,345.5 414.9,344.3 415.6,332.9 416.3,326.5 417.0,331.2 417.8,342.0 418.5,343.4 419.2,323.5 419.9,341.3 420.6,341.8 421.3,342.2 422.1,345.2 422.8,346.5 423.5,346.5 424.2,338.5 424.9,343.8 425.7,344.8 426.4,324.1 427.1,323.3 427.8,339.7 428.5,344.5 429.2,341.8 430.0,330.7 430.7,331.1 431.4,337.7 432.1,336.5 432.8,344.5 433.6,346.5 434.3,346.5 435.0,339.5 435.7,327.7 436.4,337.1 437.2,340.7 437.9,341.9 438.6,341.0 439.3,333.5 440.0,317.7 440.7,315.2 441.5,314.9 442.2,338.1 442.9,344.8 443.6,344.4 444.3,341.8 445.1,334.5 445.8,341.7 446.5,344.7 447.2,327.0 447.9,314.6 448.6,314.9 449.4,315.1 450.1,333.3 450.8,340.0 451.5,332.3 452.2,336.9 453.0,339.6 453.7,338.6 454.4,335.1 455.1,318.5 455.8,319.1 456.6,340.0 457.3,346.5 458.0,344.9 458.7,339.4 459.4,330.4 460.1,322.9 460.9,323.5 461.6,333.6 462.3,342.3 463.0,342.1 463.7,338.4 464.5,339.9 465.2,343.2 465.9,342.3 466.6,330.1 467.3,328.1 468.0,340.3 468.8,340.8 469.5,335.1 470.2,332.8 470.9,337.9 471.6,343.3 472.4,342.7 473.1,342.8 473.8,344.9 474.5,343.6 475.2,337.4 476.0,339.6 476.7,346.5 477.4,346.5 478.1,346.0 478.8,343.0 479.5,333.7 480.3,329.8 481.0,329.5 481.7,339.4 482.4,346.5 483.1,346.5 483.9,337.7 484.6,327.2 485.3,326.6 486.0,326.0 486.7,328.1 487.4,336.2 488.2,327.1 488.9,323.6 489.6,322.9 490.3,330.8 491.0,332.8 491.8,332.5 492.5,339.4 493.2,333.9 493.9,331.5 494.6,331.2 495.4,331.0 496.1,330.8 496.8,335.0 497.5,332.1 498.2,330.4 498.9,333.9 499.7,342.2 500.4,340.4 501.1,330.6 501.8,330.7 502.5,337.7 503.3,342.6 504.0,342.7 504.7,339.8 505.4,345.0 506.1,346.5 506.8,343.2 507.6,338.4 508.3,327.2 509.0,322.9 509.7,323.5 510.4,343.5 511.2,343.7 511.9,333.2 512.6,325.3 513.3,325.7 514.0,329.4 514.8,341.3 515.5,342.9 516.2,335.6 516.9,328.1 517.6,326.9 518.3,326.9 519.1,332.5 519.8,335.2 520.5,331.0 521.2,346.1 521.9,346.5 522.7,340.4 523.4,338.8 524.1,341.0 524.8,340.3 525.5,340.9 526.2,336.0 527.0,325.5 527.7,338.4 528.4,346.1 529.1,343.7 529.8,341.9 530.6,336.2 531.3,325.2 532.0,325.8 532.7,339.9 533.4,345.5 534.2,346.5 534.9,346.5 535.6,345.1 536.3,331.6 537.0,333.3 537.7,339.2 538.5,339.2 539.2,340.5 539.9,344.1 540.6,346.2 541.3,344.9 542.1,340.3 542.8,340.7 543.5,345.8 544.2,346.5 544.9,346.3 545.6,343.0 546.4,335.9 547.1,338.4 547.8,342.6 548.5,338.5 549.2,330.9 550.0,333.4 550.7,337.7 551.4,331.3 552.1,330.3 552.8,330.1 553.6,331.9 554.3,335.8 555.0,339.8 555.7,340.8 556.4,330.6 557.1,328.6 557.9,337.1 558.6,341.7 559.3,341.0 560.0,342.4 560.7,344.0 561.5,338.8 562.2,332.7 562.9,338.1 563.6,332.8 564.3,326.5 565.0,332.0 565.8,343.8 566.5,346.4 567.2,346.5 567.9,343.7 568.6,330.3 569.4,326.4 570.1,335.1 570.8,343.6 571.5,323.7 572.2,342.3 573.0,339.6M568.5,346.4 568.8,337.7 569.1,342.2 569.4,332.6 569.7,340.0 570.0,329.3 570.3,337.3 570.6,323.5 570.9,332.2 571.2,319.9 571.5,327.8 571.8,313.6 572.1,323.1 572.4,310.2 572.7,314.1 573.0,303.0 573.3,317.8 573.6,306.8M296.9,340.6 297.2,332.7 297.5,338.6 297.8,324.2 298.1,330.8 298.4,318.8 298.7,327.0 299.0,312.6 299.3,332.2 299.6,319.5 299.9,331.5 300.2,309.6 300.5,330.0 300.8,320.3 301.1,332.3 301.4,321.7 301.7,334.6 302.0,323.3 302.3,334.9 302.6,327.8 302.9,337.5M90.9,337.7 91.2,327.1 91.5,329.7 91.8,317.3 92.1,327.2 92.4,314.4 92.7,331.9 93.0,314.5 93.3,333.5 93.6,322.9 93.9,339.1M416.8,337.4 417.1,334.0 417.4,337.3 417.7,326.3 418.0,337.2 418.3,327.4 418.6,333.9 418.9,325.5 419.2,336.2 419.5,322.9 419.8,335.5 420.1,324.5 420.4,336.1 420.7,329.2 421.0,339.0 421.3,333.9"/>
<path stroke="#C371D2" d="M70.0,346.5 70.7,346.5 71.4,346.3 72.2,345.5 72.9,345.5 73.6,345.9 74.3,345.8 75.0,345.9 75.7,346.1 76.5,345.5 77.2,345.4 77.9,345.5 78.6,344.9 79.3,345.7 80.1,346.3 80.8,346.5 81.5,346.5 82.2,346.1 82.9,341.4 83.7,336.5 84.4,335.5 85.1,342.2 85.8,343.5 86.5,332.4 87.2,331.2 88.0,330.1 88.7,336.3 89.4,339.0 90.1,344.8 90.8,346.5 91.6,343.1 92.3,327.6 93.0,322.1 93.7,327.4 94.4,341.2 95.1,346.5 95.9,342.7 96.6,339.1 97.3,345.5 98.0,342.9 98.7,338.4 99.5,344.2 100.2,345.1 100.9,333.0 101.6,316.4 102.3,316.9 103.1,339.2 103.8,338.7 104.5,335.2 105.2,341.1 105.9,334.6 106.6,319.8 107.4,320.3 108.1,323.4 108.8,332.9 109.5,341.6 110.2,333.9 111.0,322.2 111.7,333.1 112.4,329.7 113.1,323.0 113.8,327.1 114.5,343.6 115.3,342.7 116.0,337.4 116.7,345.3 117.4,346.5 118.1,343.8 118.9,330.2 119.6,338.0 120.3,319.0 121.0,343.1 121.7,333.5 122.5,330.4 123.2,323.8 123.9,325.5 124.6,335.6 125.3,339.3 126.0,344.7 126.8,346.3 127.5,345.8 128.2,342.4 128.9,332.4 129.6,330.9 130.4,342.8 131.1,345.2 131.8,344.0 132.5,345.0 133.2,338.8 133.9,322.5 134.7,322.6 135.4,333.0 136.1,338.7 136.8,342.3 137.5,340.8 138.3,332.2 139.0,328.3 139.7,336.6 140.4,342.2 141.1,339.0 141.8,335.5 142.6,343.3 143.3,346.3 144.0,342.8 144.7,327.4 145.4,317.8 146.2,317.3 146.9,334.5 147.6,343.7 148.3,345.1 149.0,343.4 149.8,334.0 150.5,323.8 151.2,331.2 151.9,342.3 152.6,345.2 153.3,345.3 154.1,345.5 154.8,345.7 155.5,336.7 156.2,335.0 156.9,331.6 157.7,335.5 158.4,342.7 159.1,337.1 159.8,326.9 160.5,338.2 161.2,343.8 162.0,340.3 162.7,342.3 163.4,346.5 164.1,346.3 164.8,335.9 165.6,336.2 166.3,331.4 167.0,330.5 167.7,343.8 168.4,344.5 169.2,343.4 169.9,344.1 170.6,338.2 171.3,335.5 172.0,337.3 172.7,340.8 173.5,344.5 174.2,345.0 174.9,343.3 175.6,333.6 176.3,337.3 177.1,343.6 177.8,334.1 178.5,333.5 179.2,340.8 179.9,336.4 180.6,342.7 181.4,346.5 182.1,346.5 182.8,341.9 183.5,342.6 184.2,338.2 185.0,331.6 185.7,331.3 186.4,342.2 187.1,342.1 187.8,335.5 188.6,330.3 189.3,331.9 190.0,334.2 190.7,325.3 191.4,320.6 192.1,318.6 192.9,333.0 193.6,320.6 194.3,325.3 195.0,336.2 195.7,346.5 196.5,346.5 197.2,346.5 197.9,344.4 198.6,340.8 199.3,346.5 200.0,346.5 200.8,344.9 201.5,345.2 202.2,343.5 202.9,341.5 203.6,339.3 204.4,331.6 205.1,334.9 205.8,342.5 206.5,343.0 207.2,341.5 208.0,334.1 208.7,326.2 209.4,329.7 210.1,343.2 210.8,335.2 211.5,324.5 212.3,324.1 213.0,332.5 213.7,331.3 214.4,332.7 215.1,343.4 215.9,338.8 216.6,322.3 217.3,322.1 218.0,333.8 218.7,325.3 219.4,321.8 220.2,321.8 220.9,321.8 221.6,325.5 222.3,335.2 223.0,342.4 223.8,345.0 224.5,343.8 225.2,336.4 225.9,335.8 226.6,345.0 227.4,346.3 228.1,346.5 228.8,346.5 229.5,346.3 230.2,345.0 230.9,346.1 231.7,343.8 232.4,329.8 233.1,332.7 233.8,343.7 234.5,340.9 235.3,342.7 236.0,346.5 236.7,344.5 237.4,339.6 238.1,337.4 238.8,329.5 239.6,332.3 240.3,341.7 241.0,344.2 241.7,345.4 242.4,343.4 243.2,343.2 243.9,346.5 244.6,346.5 245.3,346.2 246.0,336.4 246.8,328.7 247.5,328.6 248.2,328.5 248.9,329.7 249.6,344.7 250.3,344.9 251.1,341.6 251.8,327.6 252.5,327.3 253.2,327.1 253.9,336.3 254.7,343.6 255.4,346.5 256.1,345.8 256.8,344.8 257.5,341.2 258.2,326.9 259.0,332.6 259.7,332.5 260.4,326.7 261.1,326.5 261.8,326.4 262.6,326.3 263.3,344.4 264.0,344.5 264.7,341.6 265.4,338.9 266.2,325.5 266.9,331.8 267.6,343.5 268.3,345.5 269.0,344.8 269.7,338.0 270.5,336.0 271.2,342.8 271.9,339.8 272.6,334.6 273.3,343.2 274.1,342.3 274.8,333.5 275.5,343.6 276.2,346.5 276.9,342.9 277.6,330.5 278.4,323.5 279.1,334.1 279.8,334.8 280.5,340.5 281.2,342.4 282.0,333.6 282.7,333.2 283.4,332.4 284.1,333.1 284.8,340.2 285.5,341.0 286.3,345.6 287.0,344.6 287.7,325.7 288.4,326.1 289.1,343.3 289.9,346.3 290.6,345.0 291.3,331.2 292.0,328.4 292.7,335.4 293.5,343.5 294.2,335.7 294.9,335.1 295.6,344.6 296.3,346.5 297.0,345.4 297.8,343.1 298.5,344.7 299.2,345.0 299.9,343.7 300.6,342.1 301.4,339.1 302.1,335.6 302.8,334.4 303.5,334.7 304.2,334.9 304.9,335.2 305.7,338.5 306.4,337.3 307.1,336.6 307.8,342.3 308.5,339.7 309.3,336.1 310.0,336.1 310.7,336.1 311.4,336.1 312.1,336.0 312.9,339.7 313.6,345.5 314.3,346.5 315.0,346.5 315.7,346.5 316.4,342.6 317.2,334.8 317.9,336.9 318.6,343.6 319.3,345.6 320.0,344.5 320.8,341.1 321.5,338.4 322.2,339.5 322.9,341.3 323.6,341.6 324.3,339.4 325.1,341.7 325.8,340.2 326.5,330.7 327.2,330.5 327.9,330.3 328.7,330.1 329.4,338.7 330.1,340.8 330.8,342.2 331.5,345.6 332.3,346.5 333.0,346.5 333.7,346.3 334.4,344.7 335.1,337.9 335.8,335.4 336.6,343.1 337.3,344.6 338.0,343.4 338.7,340.6 339.4,341.8 340.2,345.1 340.9,344.6 341.6,339.5 342.3,342.9 343.0,346.1 343.7,341.8 344.5,340.9 345.2,343.2 345.9,341.4 346.6,344.3 347.3,340.9 348.1,334.3 348.8,338.1 349.5,340.1 350.2,346.1 350.9,346.5 351.7,344.3 352.4,338.8 353.1,334.1 353.8,335.6 354.5,343.1 355.2,345.8 356.0,345.8 356.7,346.5 357.4,346.5 358.1,346.3 358.8,342.6 359.6,342.0 360.3,339.4 361.0,337.3 361.7,340.1 362.4,341.2 363.1,338.1 363.9,325.0 364.6,296.1 365.3,341.0 366.0,343.5 366.7,337.3 367.5,341.1 368.2,346.3 368.9,344.7 369.6,338.7 370.3,343.4 371.1,344.5 371.8,339.4 372.5,334.6 373.2,333.3 373.9,339.2 374.6,343.6 375.4,344.3 376.1,344.6 376.8,340.5 377.5,331.9 378.2,331.5 379.0,332.5 379.7,330.8 380.4,330.4 381.1,336.4 381.8,335.4 382.5,336.4 383.3,328.7 384.0,328.2 384.7,340.6 385.4,332.5 386.1,335.6 386.9,342.7 387.6,344.2 388.3,346.5 389.0,346.5 389.7,341.0 390.5,338.7 391.2,342.6 391.9,340.9 392.6,339.1 393.3,326.7 394.0,319.6 394.8,325.8 395.5,342.5 396.2,332.6 396.9,317.5 397.6,317.0 398.4,316.7 399.1,330.0 399.8,336.6 400.5,316.1 401.2,315.6 401.9,321.7 402.7,332.5 403.4,342.5 404.1,343.9 404.8,338.7 405.5,338.4 406.3,342.8 407.0,323.3 407.7,317.6 408.4,320.0 409.1,332.0 409.9,329.0 410.6,343.5 411.3,345.7 412.0,334.7 412.7,331.8 413.4,340.6 414.2,339.1 414.9,342.2 415.6,341.4 416.3,332.2 417.0,334.5 417.8,343.8 418.5,346.2 419.2,340.3 419.9,332.2 420.6,341.5 421.3,345.1 422.1,343.8 422.8,342.0 423.5,337.3 424.2,328.6 424.9,328.9 425.7,344.2 426.4,345.0 427.1,344.8 427.8,343.4 428.5,334.7 429.2,323.9 430.0,316.5 430.7,311.7 431.4,297.8 432.1,300.7 432.8,307.3 433.6,326.0 434.3,336.8 435.0,329.9 435.7,332.7 436.4,337.0 437.2,329.8 437.9,329.8 438.6,329.7 439.3,329.7 440.0,339.4 440.7,343.4 441.5,343.8 442.2,340.7 442.9,331.8 443.6,329.2 444.3,329.1 445.1,328.9 445.8,338.3 446.5,341.8 447.2,344.9 447.9,345.3 448.6,341.4 449.4,343.2 450.1,346.1 450.8,346.4 451.5,346.5 452.2,345.0 453.0,326.0 453.7,325.6 454.4,344.1 455.1,340.6 455.8,324.5 456.6,324.2 457.3,327.5 458.0,332.6 458.7,330.9 459.4,342.9 460.1,346.5 460.9,344.2 461.6,321.7 462.3,321.3 463.0,321.0 463.7,320.7 464.5,334.6 465.2,346.5 465.9,346.5 466.6,346.5 467.3,343.9 468.0,320.0 468.8,346.5 469.5,333.5 470.2,319.3 470.9,319.5 471.6,319.8 472.4,336.3 473.1,326.4 473.8,332.2 474.5,346.5 475.2,346.5 476.0,334.9 476.7,323.0 477.4,339.1 478.1,344.9 478.8,342.1 479.5,341.8 480.3,337.4 481.0,337.4 481.7,344.0 482.4,346.5 483.1,346.5 483.9,346.5 484.6,346.5 485.3,341.7 486.0,328.1 486.7,328.2 487.4,337.7 488.2,344.3 488.9,344.4 489.6,344.0 490.3,344.0 491.0,343.9 491.8,345.1 492.5,343.8 493.2,336.5 493.9,336.5 494.6,337.6 495.4,336.5 496.1,336.5 496.8,336.5 497.5,336.6 498.2,341.1 498.9,342.0 499.7,342.1 500.4,343.9 501.1,346.0 501.8,346.5 502.5,344.9 503.3,336.9 504.0,336.9 504.7,342.4 505.4,345.1 506.1,343.3 506.8,339.8 507.6,345.2 508.3,346.5 509.0,342.2 509.7,338.1 510.4,337.7 511.2,335.7 511.9,341.7 512.6,342.3 513.3,329.3 514.0,329.2 514.8,339.2 515.5,340.8 516.2,338.7 516.9,336.9 517.6,334.1 518.3,341.7 519.1,346.5 519.8,344.4 520.5,332.1 521.2,336.8 521.9,343.3 522.7,339.3 523.4,326.1 524.1,325.9 524.8,334.8 525.5,336.8 526.2,340.1 527.0,340.6 527.7,303.1 528.4,321.5 529.1,315.8 529.8,331.4 530.6,334.1 531.3,340.3 532.0,346.5 532.7,346.5 533.4,344.9 534.2,343.0 534.9,341.5 535.6,345.0 536.3,345.2 537.0,341.1 537.7,343.1 538.5,342.4 539.2,328.5 539.9,328.7 540.6,328.9 541.3,329.1 542.1,329.2 542.8,342.2 543.5,344.9 544.2,343.7 544.9,343.4 545.6,344.5 546.4,345.7 547.1,346.5 547.8,346.5 548.5,346.2 549.2,342.7 550.0,333.5 550.7,331.3 551.4,337.6 552.1,339.7 552.8,334.5 553.6,332.8 554.3,341.1 555.0,345.3 555.7,345.7 556.4,345.7 557.1,343.7 557.9,339.4 558.6,342.2 559.3,342.9 560.0,335.7 560.7,333.1 561.5,340.2 562.2,343.4 562.9,337.6 563.6,333.2 564.3,333.9 565.0,341.5 565.8,336.7 566.5,336.5 567.2,345.2 567.9,346.5 568.6,343.9 569.4,340.0 570.1,339.6 570.8,340.4 571.5,343.0 572.2,336.9 573.0,332.0M362.7,341.1 363.0,327.9 363.3,331.1 363.6,295.6 363.9,319.5 364.2,285.0 364.5,321.2 364.8,303.9 365.1,334.4 365.4,332.9M428.1,337.4 428.4,332.5 428.7,334.8 429.0,321.1 429.3,334.3 429.6,319.9 429.9,320.7 430.2,302.9 430.5,327.1 430.8,309.9 431.1,318.8 431.4,304.2 431.7,322.1 432.0,300.2 432.3,321.3 432.6,306.0 432.9,331.2 433.2,313.0 433.5,331.5 433.8,323.8 434.1,335.6 434.4,333.0M526.5,340.3 526.8,324.0 527.1,329.1 527.4,314.6 527.7,325.1 528.0,302.5 528.3,323.0 528.6,312.2 528.9,333.0 529.2,325.2 529.5,336.9M118.8,335.8 119.0,327.9 119.3,329.5 119.6,313.3 119.9,323.9 120.2,312.2 120.5,327.8 120.8,322.6 121.1,338.9M191.2,337.0 191.6,324.7 191.9,331.1 192.2,313.9 192.5,327.5 192.8,311.5 193.1,326.0 193.4,326.4 193.7,338.9"/>
<path stroke="#AC8E18" d="M70.0,346.5 70.7,346.5 71.4,346.4 72.2,345.9 72.9,345.4 73.6,345.7 74.3,345.8 75.0,344.1 75.7,343.7 76.5,343.3 77.2,342.9 77.9,343.8 78.6,345.5 79.3,342.2 80.1,341.2 80.8,340.5 81.5,341.2 82.2,340.5 82.9,344.6 83.7,345.8 84.4,344.3 85.1,345.4 85.8,344.3 86.5,334.2 87.2,334.1 88.0,341.6 88.7,345.0 89.4,342.7 90.1,330.2 90.8,329.1 91.6,327.1 92.3,326.0 93.0,335.8 93.7,341.8 94.4,344.1 95.1,346.5 95.9,342.8 96.6,328.7 97.3,286.9 98.0,316.8 98.7,328.8 99.5,342.0 100.2,341.6 100.9,323.0 101.6,320.1 102.3,320.4 103.1,320.7 103.8,343.4 104.5,345.3 105.2,333.0 105.9,323.8 106.6,318.0 107.4,287.4 108.1,290.3 108.8,320.7 109.5,338.0 110.2,338.9 111.0,331.7 111.7,336.3 112.4,340.9 113.1,337.6 113.8,337.6 114.5,344.0 115.3,341.0 116.0,322.4 116.7,331.8 117.4,338.1 118.1,335.0 118.9,324.9 119.6,315.4 120.3,314.9 121.0,326.9 121.7,333.9 122.5,340.5 123.2,343.9 123.9,340.4 124.6,316.5 125.3,322.0 126.0,338.3 126.8,338.7 127.5,343.2 128.2,343.7 128.9,339.4 129.6,333.8 130.4,326.5 131.1,339.0 131.8,341.4 132.5,320.2 133.2,320.9 133.9,321.6 134.7,323.1 135.4,335.5 136.1,344.4 136.8,343.2 137.5,345.7 138.3,346.5 139.0,343.1 139.7,338.7 140.4,341.1 141.1,340.7 141.8,339.8 142.6,339.1 143.3,336.2 144.0,333.0 144.7,328.8 145.4,321.6 146.2,321.1 146.9,320.4 147.6,334.4 148.3,338.4 149.0,337.4 149.8,339.0 150.5,339.5 151.2,334.1 151.9,336.7 152.6,340.4 153.3,340.0 154.1,343.5 154.8,343.0 155.5,342.5 156.2,340.8 156.9,309.3 157.7,308.8 158.4,322.3 159.1,323.2 159.8,323.4 160.5,313.3 161.2,324.2 162.0,340.6 162.7,340.7 163.4,324.7 164.1,308.6 164.8,309.1 165.6,309.6 166.3,338.1 167.0,342.1 167.7,337.1 168.4,315.9 169.2,312.8 169.9,313.6 170.6,334.0 171.3,340.7 172.0,319.8 172.7,317.0 173.5,317.8 174.2,322.7 174.9,319.5 175.6,320.3 176.3,321.0 177.1,321.7 177.8,322.4 178.5,337.0 179.2,343.7 179.9,325.4 180.6,324.6 181.4,325.0 182.1,338.9 182.8,341.8 183.5,340.7 184.2,331.4 185.0,328.5 185.7,338.9 186.4,325.9 187.1,325.8 187.8,342.2 188.6,341.3 189.3,327.5 190.0,325.0 190.7,336.9 191.4,346.5 192.1,346.5 192.9,346.5 193.6,346.5 194.3,345.1 195.0,335.8 195.7,333.4 196.5,339.0 197.2,343.3 197.9,342.9 198.6,344.1 199.3,344.8 200.0,344.3 200.8,342.9 201.5,328.8 202.2,338.9 202.9,346.5 203.6,346.4 204.4,341.6 205.1,333.1 205.8,331.7 206.5,343.6 207.2,344.8 208.0,337.3 208.7,340.8 209.4,346.5 210.1,346.5 210.8,346.4 211.5,346.5 212.3,346.5 213.0,341.6 213.7,341.5 214.4,346.5 215.1,346.5 215.9,346.1 216.6,345.3 217.3,346.5 218.0,344.0 218.7,334.4 219.4,344.2 220.2,344.2 220.9,327.1 221.6,326.7 222.3,326.8 223.0,326.9 223.8,326.9 224.5,327.0 225.2,330.8 225.9,333.7 226.6,340.8 227.4,344.0 228.1,333.9 228.8,328.3 229.5,341.3 230.2,340.4 230.9,315.1 231.7,314.1 232.4,314.9 233.1,319.3 233.8,344.9 234.5,343.7 235.3,340.3 236.0,328.3 236.7,301.7 237.4,283.7 238.1,283.9 238.8,278.4 239.6,282.1 240.3,307.8 241.0,320.4 241.7,318.8 242.4,330.3 243.2,330.7 243.9,318.6 244.6,315.2 245.3,316.8 246.0,317.7 246.8,319.9 247.5,319.3 248.2,343.1 248.9,344.8 249.6,340.8 250.3,333.2 251.1,316.1 251.8,329.4 252.5,345.1 253.2,344.0 253.9,328.3 254.7,318.5 255.4,336.2 256.1,344.9 256.8,344.8 257.5,338.8 258.2,341.5 259.0,344.7 259.7,341.4 260.4,342.2 261.1,346.3 261.8,346.3 262.6,339.3 263.3,336.6 264.0,339.4 264.7,332.6 265.4,323.5 266.2,332.2 266.9,338.8 267.6,340.3 268.3,341.8 269.0,340.3 269.7,333.6 270.5,336.4 271.2,338.9 271.9,339.4 272.6,344.8 273.3,345.3 274.1,341.5 274.8,340.8 275.5,338.6 276.2,329.3 276.9,329.7 277.6,335.6 278.4,340.1 279.1,344.4 279.8,341.8 280.5,332.9 281.2,331.1 282.0,335.8 282.7,340.1 283.4,343.9 284.1,343.8 284.8,339.9 285.5,346.1 286.3,346.5 287.0,346.5 287.7,343.5 288.4,342.3 289.1,342.7 289.9,339.5 290.6,337.7 291.3,341.2 292.0,345.1 292.7,344.4 293.5,338.3 294.2,342.9 294.9,346.5 295.6,344.7 296.3,339.4 297.0,344.6 297.8,345.0 298.5,337.6 299.2,326.4 299.9,326.0 300.6,325.7 301.4,336.2 302.1,339.3 302.8,324.9 303.5,324.7 304.2,324.6 304.9,340.7 305.7,344.2 306.4,332.0 307.1,324.5 307.8,324.6 308.5,324.1 309.3,322.0 310.0,321.1 310.7,341.4 311.4,346.0 312.1,344.3 312.9,342.2 313.6,344.6 314.3,333.3 315.0,326.6 315.7,326.7 316.4,340.1 317.2,326.8 317.9,326.7 318.6,326.6 319.3,326.4 320.0,337.1 320.8,343.6 321.5,342.4 322.2,341.2 322.9,341.6 323.6,341.2 324.3,342.8 325.1,345.7 325.8,343.3 326.5,331.7 327.2,335.1 327.9,333.2 328.7,331.3 329.4,339.7 330.1,340.5 330.8,341.9 331.5,343.3 332.3,339.4 333.0,329.2 333.7,330.5 334.4,339.2 335.1,336.5 335.8,332.2 336.6,338.9 337.3,330.9 338.0,312.1 338.7,312.5 339.4,313.0 340.2,321.7 340.9,320.4 341.6,314.7 342.3,315.2 343.0,323.5 343.7,335.7 344.5,325.0 345.2,340.5 345.9,346.4 346.6,346.5 347.3,342.0 348.1,319.9 348.8,319.7 349.5,320.0 350.2,321.8 350.9,320.7 351.7,321.0 352.4,328.4 353.1,334.5 353.8,334.0 354.5,336.7 355.2,339.5 356.0,338.5 356.7,333.8 357.4,331.2 358.1,336.0 358.8,342.7 359.6,342.3 360.3,340.3 361.0,338.8 361.7,325.2 362.4,325.6 363.1,337.5 363.9,340.8 364.6,339.7 365.3,341.3 366.0,346.5 366.7,346.5 367.5,346.5 368.2,344.9 368.9,334.6 369.6,329.3 370.3,329.5 371.1,335.9 371.8,344.8 372.5,343.8 373.2,339.8 373.9,335.6 374.6,338.3 375.4,341.7 376.1,340.0 376.8,330.1 377.5,329.9 378.2,336.8 379.0,338.3 379.7,329.1 380.4,328.8 381.1,334.6 381.8,338.4 382.5,343.0 383.3,342.3 384.0,329.7 384.7,331.2 385.4,334.4 386.1,336.5 386.9,343.8 387.6,344.3 388.3,340.1 389.0,337.2 389.7,331.8 390.5,320.6 391.2,320.0 391.9,319.5 392.6,332.1 393.3,323.4 394.0,322.4 394.8,323.9 395.5,331.3 396.2,343.0 396.9,342.3 397.6,322.3 398.4,321.4 399.1,342.5 399.8,345.7 400.5,345.7 401.2,344.3 401.9,330.5 402.7,341.7 403.4,345.8 404.1,342.7 404.8,344.6 405.5,344.5 406.3,335.1 407.0,325.7 407.7,333.3 408.4,335.9 409.1,337.5 409.9,343.8 410.6,345.1 411.3,337.8 412.0,322.4 412.7,323.1 413.4,335.9 414.2,344.2 414.9,346.5 415.6,346.4 416.3,340.8 417.0,343.9 417.8,345.9 418.5,345.5 419.2,342.9 419.9,334.0 420.6,330.1 421.3,330.5 422.1,330.8 422.8,341.5 423.5,346.5 424.2,346.5 424.9,346.4 425.7,342.4 426.4,336.1 427.1,331.6 427.8,331.4 428.5,331.2 429.2,338.0 430.0,340.3 430.7,336.2 431.4,335.6 432.1,334.9 432.8,337.3 433.6,343.7 434.3,346.1 435.0,345.2 435.7,341.5 436.4,340.1 437.2,333.5 437.9,322.6 438.6,321.6 439.3,322.9 440.0,327.5 440.7,338.7 441.5,339.5 442.2,326.1 442.9,315.7 443.6,319.7 444.3,323.2 445.1,341.2 445.8,343.4 446.5,322.1 447.2,311.9 447.9,318.2 448.6,331.7 449.4,338.9 450.1,332.0 450.8,324.4 451.5,330.0 452.2,317.0 453.0,321.0 453.7,337.6 454.4,334.5 455.1,315.6 455.8,316.3 456.6,332.3 457.3,337.3 458.0,318.3 458.7,319.0 459.4,319.6 460.1,332.1 460.9,337.6 461.6,337.3 462.3,339.7 463.0,329.7 463.7,322.2 464.5,333.9 465.2,342.6 465.9,345.8 466.6,345.0 467.3,336.6 468.0,323.4 468.8,337.9 469.5,346.5 470.2,344.7 470.9,339.3 471.6,345.8 472.4,345.5 473.1,336.8 473.8,324.4 474.5,324.5 475.2,324.5 476.0,328.5 476.7,326.4 477.4,324.4 478.1,332.9 478.8,346.2 479.5,346.5 480.3,338.8 481.0,334.6 481.7,342.7 482.4,344.3 483.1,339.9 483.9,328.7 484.6,321.9 485.3,321.5 486.0,321.0 486.7,336.1 487.4,335.4 488.2,319.8 488.9,325.5 489.6,336.2 490.3,329.3 491.0,329.9 491.8,332.8 492.5,344.3 493.2,343.7 493.9,330.5 494.6,330.5 495.4,337.8 496.1,337.0 496.8,339.3 497.5,338.4 498.2,330.7 498.9,324.5 499.7,324.2 500.4,323.9 501.1,323.7 501.8,337.9 502.5,340.2 503.3,337.2 504.0,327.8 504.7,332.2 505.4,339.8 506.1,340.7 506.8,342.3 507.6,342.5 508.3,339.3 509.0,343.3 509.7,343.3 510.4,340.4 511.2,342.0 511.9,344.5 512.6,343.7 513.3,340.6 514.0,341.3 514.8,344.6 515.5,346.5 516.2,346.5 516.9,343.8 517.6,339.6 518.3,342.3 519.1,341.6 519.8,331.2 520.5,331.5 521.2,344.1 521.9,346.5 522.7,345.3 523.4,339.7 524.1,337.2 524.8,339.1 525.5,341.3 526.2,340.7 527.0,341.3 527.7,343.8 528.4,344.8 529.1,345.9 529.8,346.5 530.6,345.1 531.3,343.1 532.0,345.7 532.7,346.5 533.4,346.3 534.2,331.3 534.9,324.5 535.6,323.6 536.3,325.0 537.0,321.8 537.7,325.3 538.5,337.8 539.2,344.1 539.9,346.5 540.6,346.4 541.3,343.5 542.1,324.5 542.8,316.6 543.5,332.2 544.2,339.5 544.9,343.5 545.6,344.1 546.4,342.8 547.1,341.0 547.8,331.1 548.5,318.3 549.2,318.9 550.0,321.7 550.7,332.3 551.4,320.8 552.1,325.2 552.8,329.4 553.6,322.7 554.3,323.2 555.0,337.6 555.7,335.1 556.4,324.7 557.1,325.1 557.9,325.5 558.6,325.8 559.3,339.1 560.0,344.3 560.7,334.6 561.5,327.0 562.2,327.2 562.9,335.0 563.6,341.6 564.3,326.3 565.0,340.8 565.8,340.0 566.5,338.9 567.2,334.1 567.9,327.6 568.6,327.6 569.4,338.9 570.1,342.6 570.8,343.6 571.5,343.9 572.2,340.4 573.0,333.5M94.5,340.6 94.8,332.9 95.1,336.8 95.4,321.9 95.7,330.6 96.0,305.4 96.3,323.8 96.6,292.2 96.9,320.8 97.2,283.5 97.5,316.2 97.8,275.5 98.1,315.0 98.4,276.7 98.7,310.3 99.0,287.1 99.3,323.9 99.6,301.4 99.9,323.3 100.2,314.5 100.5,334.6 100.8,323.0 101.1,337.9M104.1,337.8 104.4,326.6 104.7,329.2 105.0,319.2 105.3,321.8 105.6,310.4 105.9,320.6 106.2,300.2 106.5,320.3 106.8,281.2 107.1,311.1 107.4,275.8 107.7,307.3 108.0,293.5 108.3,322.5 108.6,301.7 108.9,316.1 109.2,312.3 109.5,333.0 109.8,324.3 110.1,336.2M234.8,340.9 235.2,329.2 235.5,336.9 235.8,318.6 236.1,332.6 236.4,305.7 236.7,317.5 237.0,302.1 237.3,320.8 237.6,295.8 237.9,317.3 238.2,273.6 238.5,312.7 238.8,281.4 239.1,302.1 239.4,291.4 239.7,317.5 240.0,294.2 240.3,321.4 240.6,309.1 240.9,326.4 241.2,318.9 241.5,332.2 241.8,329.8 242.1,339.2 242.4,333.5M308.2,338.4 308.6,328.4 308.9,337.2 309.2,320.2 309.5,331.5 309.8,323.1 310.1,328.6 310.4,316.6 310.7,328.0 311.0,323.9 311.3,336.0 311.6,329.6M342.8,339.3 343.1,327.1 343.4,335.7 343.7,315.7 344.0,332.1 344.3,315.2 344.6,330.4 344.9,325.1 345.2,339.6M563.5,336.5 563.8,329.2 564.1,329.5 564.4,321.7 564.7,332.3 565.0,326.9 565.3,339.1"/>
<path stroke="#00AAAE" d="M70.0,346.5 70.7,346.5 71.4,346.5 72.2,345.9 72.9,346.0 73.6,346.3 74.3,344.9 75.0,346.0 75.7,346.3 76.5,346.1 77.2,345.3 77.9,346.4 78.6,346.5 79.3,346.4 80.1,340.3 80.8,345.2 81.5,344.4 82.2,344.1 82.9,341.3 83.7,340.2 84.4,344.2 85.1,330.9 85.8,337.0 86.5,334.0 87.2,337.1 88.0,338.9 88.7,342.7 89.4,344.5 90.1,339.7 90.8,333.6 91.6,335.8 92.3,334.7 93.0,325.6 93.7,325.3 94.4,339.4 95.1,340.4 95.9,328.5 96.6,324.0 97.3,323.7 98.0,325.7 98.7,333.5 99.5,338.6 100.2,341.8 100.9,336.9 101.6,320.8 102.3,320.3 103.1,333.4 103.8,342.3 104.5,345.3 105.2,342.1 105.9,344.3 106.6,344.8 107.4,335.4 108.1,340.1 108.8,340.9 109.5,320.8 110.2,317.9 111.0,332.4 111.7,316.0 112.4,318.0 113.1,334.3 113.8,335.3 114.5,332.4 115.3,316.7 116.0,316.9 116.7,332.2 117.4,340.2 118.1,320.5 118.9,338.6 119.6,315.0 120.3,313.9 121.0,324.7 121.7,342.1 122.5,337.8 123.2,317.6 123.9,323.4 124.6,337.5 125.3,310.1 126.0,316.0 126.8,301.9 127.5,313.5 128.2,322.3 128.9,318.4 129.6,323.7 130.4,324.6 131.1,297.2 131.8,289.7 132.5,304.9 133.2,312.4 133.9,284.4 134.7,282.7 135.4,302.8 136.1,314.4 136.8,316.6 137.5,325.9 138.3,304.9 139.0,330.3 139.7,297.2 140.4,315.2 141.1,297.4 141.8,293.5 142.6,297.5 143.3,299.8 144.0,284.9 144.7,291.7 145.4,293.5 146.2,273.8 146.9,268.2 147.6,270.3 148.3,289.4 149.0,281.6 149.8,306.7 150.5,281.5 151.2,290.1 151.9,308.0 152.6,284.2 153.3,275.7 154.1,283.2 154.8,279.0 155.5,312.1 156.2,311.5 156.9,310.7 157.7,273.8 158.4,219.1 159.1,211.5 159.8,273.8 160.5,311.1 161.2,279.0 162.0,281.8 162.7,273.4 163.4,300.1 164.1,306.0 164.8,284.2 165.6,285.8 166.3,292.4 167.0,283.0 167.7,285.1 168.4,287.2 169.2,313.0 169.9,297.2 170.6,292.9 171.3,311.3 172.0,328.0 172.7,317.9 173.5,299.2 174.2,300.6 174.9,331.9 175.6,336.9 176.3,336.8 177.1,323.4 177.8,310.1 178.5,325.8 179.2,312.8 179.9,311.0 180.6,304.9 181.4,318.4 182.1,306.3 182.8,277.2 183.5,289.5 184.2,310.1 185.0,336.4 185.7,332.9 186.4,310.0 187.1,330.0 187.8,343.0 188.6,331.6 189.3,313.6 190.0,317.9 190.7,345.3 191.4,345.6 192.1,342.4 192.9,319.3 193.6,318.3 194.3,335.3 195.0,322.1 195.7,332.0 196.5,335.4 197.2,333.5 197.9,341.3 198.6,346.5 199.3,345.0 200.0,320.5 200.8,332.7 201.5,338.9 202.2,345.1 202.9,344.2 203.6,336.4 204.4,338.3 205.1,315.3 205.8,338.9 206.5,302.9 207.2,298.1 208.0,293.7 208.7,294.6 209.4,318.6 210.1,318.6 210.8,315.5 211.5,304.6 212.3,292.0 213.0,317.1 213.7,315.0 214.4,320.2 215.1,320.5 215.9,310.1 216.6,323.3 217.3,322.0 218.0,340.3 218.7,344.5 219.4,344.2 220.2,320.5 220.9,317.0 221.6,316.5 222.3,338.5 223.0,342.2 223.8,331.9 224.5,320.1 225.2,317.4 225.9,321.8 226.6,311.5 227.4,310.4 228.1,309.2 228.8,327.7 229.5,338.3 230.2,310.1 230.9,332.7 231.7,327.2 232.4,339.2 233.1,342.3 233.8,330.6 234.5,329.7 235.3,320.5 236.0,335.4 236.7,344.6 237.4,346.5 238.1,346.5 238.8,327.5 239.6,325.9 240.3,340.7 241.0,345.6 241.7,346.5 242.4,346.5 243.2,346.5 243.9,346.4 244.6,340.7 245.3,323.1 246.0,346.5 246.8,346.5 247.5,329.4 248.2,332.5 248.9,343.3 249.6,341.8 250.3,335.2 251.1,329.2 251.8,330.1 252.5,335.6 253.2,339.5 253.9,337.6 254.7,325.7 255.4,342.8 256.1,344.9 256.8,345.7 257.5,342.2 258.2,334.4 259.0,338.9 259.7,343.2 260.4,340.0 261.1,316.4 261.8,315.8 262.6,334.7 263.3,337.7 264.0,331.8 264.7,320.7 265.4,322.2 266.2,323.2 266.9,322.2 267.6,331.3 268.3,335.4 269.0,324.2 269.7,320.5 270.5,341.6 271.2,331.7 271.9,327.2 272.6,338.3 273.3,329.8 274.1,309.6 274.8,309.6 275.5,324.8 276.2,331.9 276.9,317.9 277.6,335.8 278.4,310.0 279.1,307.5 279.8,308.6 280.5,314.3 281.2,307.7 282.0,309.6 282.7,329.2 283.4,331.8 284.1,329.6 284.8,320.5 285.5,338.9 286.3,319.1 287.0,319.9 287.7,343.4 288.4,345.2 289.1,340.3 289.9,325.7 290.6,339.1 291.3,326.4 292.0,326.3 292.7,339.8 293.5,337.8 294.2,336.3 294.9,340.2 295.6,345.9 296.3,346.5 297.0,343.3 297.8,341.5 298.5,334.8 299.2,318.1 299.9,320.5 300.6,344.2 301.4,343.9 302.1,334.0 302.8,319.2 303.5,323.9 304.2,337.3 304.9,315.3 305.7,339.2 306.4,330.7 307.1,316.2 307.8,326.0 308.5,337.9 309.3,334.0 310.0,317.3 310.7,321.4 311.4,332.7 312.1,324.0 312.9,325.1 313.6,338.1 314.3,338.9 315.0,315.3 315.7,343.8 316.4,342.7 317.2,332.6 317.9,320.4 318.6,331.8 319.3,340.4 320.0,320.5 320.8,317.6 321.5,329.4 322.2,340.7 322.9,317.6 323.6,317.6 324.3,317.6 325.1,317.6 325.8,320.5 326.5,336.3 327.2,318.2 327.9,316.0 328.7,315.3 329.4,327.7 330.1,317.4 330.8,315.2 331.5,316.1 332.3,340.7 333.0,338.8 333.7,324.1 334.4,321.1 335.1,320.5 335.8,326.0 336.6,345.4 337.3,346.5 338.0,346.5 338.7,346.5 339.4,346.5 340.2,344.1 340.9,342.7 341.6,320.5 342.3,320.5 343.0,320.5 343.7,320.5 344.5,336.4 345.2,323.1 345.9,345.5 346.6,338.0 347.3,343.6 348.1,346.5 348.8,337.7 349.5,322.9 350.2,328.0 350.9,320.5 351.7,325.2 352.4,336.3 353.1,342.4 353.8,342.2 354.5,336.9 355.2,317.9 356.0,332.6 356.7,338.3 357.4,310.1 358.1,311.6 358.8,328.7 359.6,323.1 360.3,290.1 361.0,295.9 361.7,306.3 362.4,320.5 363.1,344.2 363.9,346.4 364.6,346.5 365.3,346.5 366.0,337.6 366.7,318.9 367.5,330.1 368.2,330.2 368.9,325.6 369.6,342.5 370.3,344.5 371.1,333.2 371.8,320.3 372.5,320.5 373.2,332.3 373.9,338.2 374.6,341.7 375.4,337.6 376.1,326.4 376.8,328.8 377.5,330.5 378.2,339.0 379.0,340.6 379.7,328.3 380.4,326.3 381.1,326.3 381.8,333.4 382.5,346.5 383.3,346.5 384.0,346.5 384.7,345.5 385.4,340.3 386.1,330.2 386.9,326.3 387.6,335.9 388.3,342.3 389.0,343.5 389.7,328.3 390.5,345.0 391.2,343.4 391.9,335.7 392.6,331.6 393.3,339.5 394.0,326.0 394.8,324.9 395.5,324.7 396.2,330.1 396.9,342.2 397.6,341.3 398.4,325.6 399.1,339.1 399.8,325.7 400.5,346.5 401.2,341.9 401.9,341.0 402.7,345.2 403.4,333.8 404.1,317.9 404.8,331.2 405.5,337.0 406.3,318.5 407.0,342.5 407.7,345.7 408.4,343.5 409.1,337.8 409.9,341.2 410.6,342.0 411.3,339.6 412.0,328.3 412.7,346.5 413.4,345.9 414.2,343.6 414.9,343.8 415.6,344.1 416.3,327.4 417.0,326.3 417.8,326.3 418.5,342.5 419.2,335.5 419.9,326.3 420.6,328.2 421.3,344.8 422.1,346.5 422.8,346.5 423.5,344.5 424.2,345.1 424.9,343.9 425.7,342.2 426.4,342.6 427.1,343.5 427.8,338.7 428.5,328.8 429.2,329.0 430.0,330.9 430.7,345.4 431.4,343.4 432.1,340.3 432.8,337.5 433.6,326.6 434.3,326.1 435.0,344.1 435.7,345.4 436.4,334.1 437.2,324.0 437.9,323.5 438.6,340.7 439.3,331.4 440.0,320.5 440.7,327.9 441.5,341.9 442.2,320.5 442.9,334.6 443.6,308.3 444.3,304.1 445.1,322.2 445.8,322.5 446.5,336.0 447.2,320.5 447.9,341.2 448.6,322.3 449.4,322.1 450.1,319.9 450.8,320.4 451.5,320.9 452.2,337.9 453.0,345.7 453.7,336.3 454.4,323.0 455.1,325.7 455.8,336.2 456.6,336.0 457.3,331.6 458.0,332.3 458.7,344.4 459.4,344.3 460.1,335.2 460.9,341.6 461.6,345.2 462.3,344.6 463.0,345.0 463.7,335.9 464.5,328.3 465.2,328.3 465.9,343.9 466.6,342.7 467.3,344.8 468.0,342.6 468.8,339.3 469.5,329.0 470.2,320.0 470.9,321.2 471.6,319.7 472.4,317.4 473.1,337.4 473.8,339.0 474.5,328.4 475.2,328.3 476.0,325.7 476.7,336.2 477.4,341.7 478.1,343.0 478.8,343.0 479.5,335.4 480.3,324.1 481.0,324.2 481.7,324.3 482.4,324.4 483.1,329.5 483.9,328.8 484.6,324.7 485.3,325.0 486.0,340.6 486.7,340.2 487.4,327.3 488.2,343.7 488.9,345.1 489.6,338.9 490.3,339.3 491.0,342.5 491.8,338.1 492.5,335.5 493.2,337.4 493.9,337.8 494.6,335.6 495.4,331.3 496.1,339.7 496.8,346.4 497.5,346.5 498.2,345.8 498.9,346.4 499.7,329.4 500.4,334.7 501.1,327.0 501.8,326.7 502.5,326.4 503.3,331.0 504.0,325.8 504.7,325.6 505.4,338.5 506.1,345.8 506.8,341.2 507.6,324.4 508.3,324.1 509.0,332.6 509.7,325.7 510.4,339.8 511.2,336.1 511.9,331.6 512.6,320.9 513.3,323.1 514.0,343.3 514.8,344.4 515.5,331.5 516.2,318.7 516.9,321.2 517.6,308.1 518.3,303.9 519.1,303.6 519.8,308.6 520.5,329.9 521.2,323.1 521.9,339.8 522.7,336.3 523.4,327.3 524.1,341.0 524.8,346.5 525.5,342.5 526.2,323.1 527.0,323.5 527.7,339.1 528.4,339.1 529.1,335.3 529.8,327.3 530.6,346.5 531.3,346.5 532.0,340.5 532.7,325.9 533.4,326.1 534.2,330.1 534.9,336.5 535.6,342.3 536.3,345.0 537.0,343.2 537.7,327.4 538.5,327.0 539.2,332.3 539.9,344.0 540.6,346.5 541.3,345.8 542.1,335.8 542.8,331.9 543.5,340.2 544.2,333.2 544.9,322.6 545.6,320.3 546.4,320.6 547.1,321.0 547.8,337.2 548.5,337.8 549.2,334.7 550.0,332.4 550.7,334.1 551.4,332.5 552.1,325.7 552.8,336.2 553.6,338.2 554.3,345.2 555.0,345.2 555.7,337.7 556.4,341.6 557.1,344.2 557.9,343.0 558.6,340.5 559.3,320.3 560.0,320.0 560.7,343.7 561.5,345.3 562.2,342.4 562.9,343.6 563.6,340.1 564.3,330.5 565.0,333.9 565.8,328.3 566.5,325.5 567.2,324.3 567.9,323.1 568.6,332.9 569.4,339.6 570.1,341.8 570.8,334.0 571.5,318.2 572.2,319.9 573.0,325.7M158.0,342.5 158.3,282.8 158.6,310.5 158.9,224.3 159.2,334.1 159.5,301.8M143.7,343.5 144.2,329.5 144.8,333.2 145.3,304.4 145.9,325.8 146.4,294.5 147.0,320.4 147.5,288.1 148.1,333.0 148.6,285.6 149.2,335.6 149.7,315.3 150.3,335.5 150.8,332.4 151.4,341.3M150.0,341.2 150.6,333.7 151.1,334.4 151.7,304.6 152.2,331.2 152.8,301.3 153.3,307.8 153.9,292.0 154.4,334.7 155.0,317.0 155.5,334.7 156.1,320.5 156.6,339.9M132.5,340.8 133.1,324.2 133.6,337.4 134.2,303.9 134.7,335.1 135.3,289.7 135.8,320.6 136.4,326.0 136.9,340.0 137.5,332.7M181.4,334.0 181.7,315.3 182.0,325.5 182.3,283.7 182.6,303.1 182.9,304.7 183.2,322.4 183.5,322.2M359.3,340.4 359.6,319.7 359.9,326.5 360.2,302.9 360.5,323.0 360.8,313.9 361.1,333.5 361.4,331.0M208.5,342.7 209.1,327.8 209.6,339.4 210.2,300.8 210.7,333.6 211.3,311.8 211.8,330.6 212.4,311.3 212.9,337.1 213.5,333.7"/>
<path stroke="#ED5E93" d="M70.0,346.5 70.7,346.5 71.4,346.2 72.2,346.1 72.9,346.0 73.6,346.3 74.3,346.3 75.0,345.6 75.7,345.4 76.5,345.3 77.2,344.8 77.9,344.8 78.6,344.0 79.3,344.1 80.1,345.8 80.8,346.3 81.5,346.4 82.2,345.6 82.9,341.3 83.7,342.0 84.4,345.1 85.1,338.0 85.8,345.7 86.5,341.9 87.2,336.2 88.0,340.7 88.7,341.1 89.4,338.5 90.1,343.6 90.8,345.2 91.6,342.7 92.3,335.5 93.0,339.8 93.7,333.5 94.4,337.8 95.1,339.3 95.9,336.4 96.6,343.9 97.3,346.5 98.0,346.5 98.7,322.7 99.5,321.3 100.2,323.0 100.9,336.5 101.6,330.9 102.3,330.2 103.1,316.7 103.8,307.1 104.5,313.1 105.2,328.0 105.9,303.9 106.6,327.8 107.4,326.7 108.1,302.4 108.8,296.4 109.5,311.5 110.2,316.1 111.0,286.9 111.7,315.6 112.4,314.1 113.1,311.7 113.8,297.1 114.5,277.9 115.3,315.7 116.0,318.1 116.7,296.4 117.4,328.4 118.1,321.9 118.9,306.6 119.6,307.8 120.3,308.2 121.0,308.5 121.7,326.5 122.5,312.9 123.2,339.2 123.9,334.9 124.6,338.7 125.3,332.9 126.0,323.0 126.8,327.2 127.5,328.6 128.2,327.8 128.9,326.9 129.6,326.0 130.4,325.1 131.1,326.5 131.8,339.7 132.5,336.5 133.2,332.6 133.9,331.4 134.7,321.0 135.4,337.1 136.1,329.1 136.8,318.9 137.5,326.4 138.3,344.7 139.0,346.0 139.7,323.0 140.4,321.3 141.1,322.3 141.8,336.1 142.6,335.0 143.3,331.5 144.0,321.5 144.7,340.6 145.4,344.8 146.2,339.1 146.9,320.2 147.6,309.4 148.3,317.8 149.0,334.5 149.8,337.9 150.5,341.3 151.2,319.0 151.9,341.0 152.6,340.2 153.3,340.1 154.1,333.5 154.8,306.4 155.5,336.8 156.2,339.7 156.9,339.7 157.7,316.4 158.4,335.0 159.1,341.7 159.8,323.0 160.5,340.5 161.2,341.6 162.0,333.8 162.7,308.9 163.4,305.7 164.1,316.5 164.8,303.4 165.6,321.5 166.3,298.5 167.0,307.4 167.7,291.4 168.4,299.9 169.2,301.7 169.9,280.9 170.6,313.3 171.3,301.8 172.0,291.4 172.7,319.8 173.5,324.5 174.2,298.4 174.9,309.0 175.6,312.6 176.3,311.4 177.1,335.5 177.8,344.6 178.5,344.3 179.2,323.0 179.9,342.7 180.6,343.0 181.4,341.4 182.1,340.6 182.8,344.9 183.5,346.5 184.2,346.5 185.0,327.5 185.7,341.7 186.4,322.4 187.1,320.9 187.8,319.4 188.6,317.8 189.3,318.2 190.0,314.8 190.7,315.8 191.4,323.5 192.1,338.8 192.9,337.2 193.6,321.0 194.3,322.8 195.0,329.4 195.7,324.1 196.5,320.3 197.2,319.8 197.9,329.0 198.6,311.4 199.3,328.4 200.0,298.4 200.8,310.7 201.5,302.2 202.2,296.4 202.9,309.7 203.6,309.5 204.4,272.4 205.1,280.7 205.8,300.4 206.5,333.9 207.2,311.4 208.0,327.5 208.7,310.7 209.4,331.8 210.1,340.0 210.8,345.5 211.5,346.5 212.3,323.5 213.0,346.5 213.7,346.5 214.4,346.4 215.1,341.4 215.9,341.3 216.6,342.4 217.3,336.9 218.0,333.3 218.7,328.0 219.4,342.7 220.2,327.3 220.9,324.2 221.6,334.3 222.3,331.7 223.0,322.5 223.8,329.7 224.5,343.1 225.2,323.5 225.9,333.3 226.6,333.7 227.4,340.3 228.1,311.4 228.8,336.5 229.5,330.8 230.2,321.2 230.9,292.9 231.7,310.9 232.4,332.7 233.1,339.2 233.8,315.9 234.5,323.7 235.3,333.0 236.0,340.1 236.7,317.5 237.4,318.7 238.1,329.4 238.8,345.9 239.6,346.5 240.3,325.5 241.0,335.8 241.7,333.1 242.4,342.0 243.2,316.4 243.9,338.8 244.6,306.0 245.3,302.8 246.0,305.4 246.8,310.1 247.5,314.8 248.2,324.6 248.9,325.5 249.6,336.5 250.3,326.3 251.1,336.6 251.8,345.2 252.5,341.9 253.2,332.1 253.9,333.1 254.7,332.8 255.4,335.1 256.1,332.3 256.8,332.1 257.5,331.8 258.2,331.5 259.0,343.6 259.7,332.5 260.4,345.6 261.1,333.4 261.8,331.7 262.6,343.3 263.3,346.5 264.0,345.1 264.7,334.5 265.4,336.8 266.2,338.1 266.9,342.2 267.6,341.3 268.3,330.3 269.0,326.4 269.7,334.5 270.5,334.3 271.2,323.5 271.9,342.4 272.6,346.5 273.3,346.5 274.1,345.6 274.8,333.0 275.5,342.3 276.2,343.4 276.9,346.5 277.6,346.5 278.4,341.8 279.1,326.5 279.8,341.6 280.5,344.7 281.2,346.5 282.0,345.9 282.7,318.5 283.4,318.7 284.1,321.5 284.8,329.7 285.5,335.1 286.3,330.5 287.0,339.7 287.7,331.0 288.4,330.4 289.1,341.4 289.9,342.4 290.6,331.8 291.3,332.7 292.0,343.6 292.7,334.5 293.5,344.3 294.2,344.0 294.9,337.6 295.6,340.3 296.3,339.2 297.0,340.0 297.8,345.0 298.5,343.5 299.2,331.5 299.9,342.8 300.6,336.6 301.4,331.7 302.1,342.1 302.8,345.1 303.5,340.8 304.2,337.1 304.9,328.0 305.7,340.2 306.4,331.1 307.1,338.3 307.8,339.4 308.5,331.0 309.3,332.1 310.0,334.5 310.7,340.4 311.4,331.8 312.1,331.1 312.9,335.6 313.6,345.4 314.3,339.0 315.0,328.3 315.7,327.6 316.4,339.2 317.2,328.0 317.9,345.9 318.6,342.2 319.3,335.2 320.0,329.0 320.8,333.4 321.5,334.5 322.2,331.6 322.9,334.0 323.6,343.5 324.3,333.0 325.1,334.6 325.8,343.1 326.5,345.9 327.2,346.5 327.9,344.5 328.7,330.5 329.4,332.7 330.1,326.4 330.8,330.6 331.5,340.4 332.3,321.5 333.0,327.3 333.7,311.4 334.4,329.0 335.1,318.0 335.8,289.9 336.6,284.4 337.3,316.9 338.0,320.2 338.7,317.4 339.4,317.3 340.2,320.5 340.9,323.7 341.6,340.2 342.3,346.5 343.0,346.5 343.7,345.3 344.5,339.9 345.2,324.0 345.9,323.2 346.6,322.4 347.3,321.6 348.1,324.4 348.8,320.0 349.5,319.2 350.2,319.2 350.9,321.0 351.7,332.7 352.4,324.5 353.1,326.2 353.8,331.0 354.5,337.7 355.2,332.5 356.0,345.6 356.7,342.6 357.4,334.9 358.1,336.0 358.8,341.2 359.6,343.3 360.3,329.0 361.0,344.1 361.7,331.9 362.4,327.9 363.1,328.2 363.9,328.5 364.6,332.4 365.3,329.0 366.0,339.0 366.7,343.8 367.5,331.5 368.2,346.1 368.9,343.9 369.6,343.6 370.3,345.3 371.1,341.9 371.8,343.3 372.5,345.0 373.2,343.0 373.9,342.4 374.6,329.0 375.4,345.0 376.1,346.5 376.8,346.5 377.5,346.5 378.2,346.5 379.0,346.3 379.7,331.0 380.4,331.2 381.1,334.3 381.8,338.6 382.5,334.5 383.3,333.1 384.0,337.9 384.7,335.5 385.4,341.5 386.1,344.5 386.9,344.1 387.6,338.3 388.3,330.9 389.0,330.5 389.7,340.7 390.5,344.2 391.2,336.3 391.9,329.0 392.6,338.8 393.3,327.9 394.0,324.7 394.8,330.7 395.5,340.3 396.2,346.1 396.9,345.9 397.6,323.5 398.4,342.3 399.1,333.6 399.8,329.0 400.5,331.3 401.2,339.0 401.9,321.5 402.7,344.3 403.4,342.6 404.1,331.1 404.8,314.9 405.5,325.1 406.3,319.2 407.0,327.6 407.7,324.0 408.4,330.7 409.1,325.5 409.9,325.1 410.6,326.6 411.3,336.7 412.0,345.5 412.7,330.8 413.4,332.3 414.2,340.2 414.9,336.5 415.6,341.9 416.3,341.8 417.0,341.2 417.8,336.9 418.5,332.6 419.2,341.3 419.9,343.9 420.6,343.8 421.3,344.6 422.1,331.5 422.8,343.9 423.5,344.6 424.2,341.1 424.9,342.1 425.7,342.0 426.4,337.7 427.1,345.2 427.8,326.5 428.5,342.5 429.2,346.3 430.0,346.5 430.7,344.2 431.4,329.9 432.1,319.1 432.8,321.5 433.6,343.9 434.3,338.8 435.0,327.3 435.7,316.4 436.4,311.8 437.2,309.6 437.9,311.5 438.6,308.9 439.3,325.2 440.0,326.5 440.7,336.1 441.5,345.9 442.2,324.0 442.9,336.0 443.6,320.6 444.3,320.3 445.1,321.3 445.8,330.6 446.5,331.1 447.2,320.0 447.9,318.2 448.6,322.5 449.4,320.5 450.1,316.1 450.8,336.1 451.5,344.6 452.2,316.4 453.0,341.3 453.7,338.7 454.4,336.0 455.1,330.8 455.8,321.5 456.6,313.1 457.3,313.1 458.0,328.2 458.7,340.4 459.4,338.9 460.1,330.0 460.9,328.8 461.6,330.6 462.3,329.0 463.0,346.5 463.7,343.5 464.5,341.2 465.2,345.6 465.9,346.5 466.6,346.5 467.3,326.5 468.0,344.2 468.8,335.4 469.5,344.6 470.2,346.5 470.9,346.5 471.6,345.5 472.4,330.7 473.1,329.2 473.8,318.5 474.5,327.6 475.2,340.9 476.0,313.9 476.7,330.9 477.4,314.7 478.1,322.9 478.8,304.4 479.5,320.3 480.3,313.9 481.0,339.5 481.7,304.4 482.4,336.7 483.1,336.5 483.9,335.6 484.6,337.8 485.3,323.5 486.0,335.0 486.7,338.7 487.4,329.3 488.2,327.6 488.9,329.1 489.6,340.6 490.3,333.0 491.0,337.0 491.8,336.8 492.5,337.9 493.2,341.6 493.9,343.4 494.6,345.3 495.4,346.5 496.1,345.2 496.8,334.5 497.5,346.2 498.2,344.2 498.9,342.9 499.7,341.9 500.4,344.8 501.1,346.5 501.8,331.5 502.5,345.3 503.3,346.5 504.0,346.5 504.7,337.4 505.4,322.9 506.1,318.5 506.8,338.7 507.6,330.9 508.3,302.4 509.0,337.1 509.7,324.0 510.4,339.0 511.2,343.2 511.9,343.7 512.6,337.7 513.3,328.9 514.0,338.1 514.8,330.5 515.5,343.7 516.2,339.3 516.9,332.1 517.6,334.6 518.3,331.0 519.1,330.0 519.8,330.2 520.5,335.8 521.2,344.8 521.9,332.5 522.7,342.3 523.4,343.5 524.1,344.3 524.8,342.0 525.5,338.6 526.2,340.4 527.0,341.3 527.7,331.7 528.4,329.1 529.1,339.7 529.8,330.5 530.6,346.3 531.3,335.7 532.0,329.5 532.7,340.4 533.4,345.3 534.2,346.3 534.9,318.5 535.6,333.0 536.3,335.5 537.0,331.0 537.7,307.4 538.5,330.8 539.2,329.4 539.9,308.4 540.6,334.8 541.3,341.7 542.1,339.5 542.8,324.0 543.5,343.3 544.2,341.3 544.9,327.6 545.6,315.9 546.4,334.9 547.1,317.2 547.8,320.3 548.5,343.9 549.2,346.5 550.0,331.5 550.7,342.7 551.4,327.2 552.1,329.1 552.8,324.0 553.6,336.3 554.3,311.9 555.0,334.7 555.7,335.3 556.4,329.0 557.1,327.7 557.9,326.8 558.6,331.1 559.3,339.4 560.0,333.8 560.7,326.2 561.5,326.1 562.2,326.0 562.9,335.1 563.6,343.9 564.3,339.5 565.0,328.7 565.8,329.5 566.5,336.3 567.2,332.5 567.9,339.3 568.6,339.8 569.4,339.8 570.1,338.6 570.8,330.5 571.5,333.7 572.2,333.7 573.0,337.5M109.7,340.8 110.2,325.4 110.8,338.3 111.3,309.0 111.8,335.1 112.4,293.9 112.9,326.5 113.5,276.3 114.0,328.3 114.6,304.4 115.1,322.7 115.7,307.1 116.2,339.9 116.8,323.5 117.3,341.9M166.5,339.3 167.1,323.7 167.6,335.3 168.2,305.4 168.7,319.2 169.3,284.7 169.8,327.6 170.4,299.9 170.9,333.8 171.5,295.9 172.0,332.2 172.6,328.6 173.1,338.6M203.4,335.8 203.7,307.3 204.0,319.0 204.3,284.2 204.6,297.9 204.9,287.0 205.2,327.5 205.5,318.8M229.8,339.8 230.1,322.7 230.4,325.4 230.7,302.3 231.0,324.1 231.3,300.7 231.6,318.3 231.9,304.6 232.2,328.5 232.5,330.5M334.9,343.8 335.2,328.6 335.5,330.5 335.8,293.2 336.1,314.8 336.4,284.5 336.7,337.2 337.0,317.5 337.3,337.5 337.6,333.0M478.0,341.2 478.3,317.8 478.6,338.5 478.9,305.1 479.2,330.5 479.6,318.4M481.1,335.4 481.4,318.6 481.8,328.6 482.1,305.6 482.4,337.6 482.7,327.9M506.9,341.2 507.2,324.0 507.5,329.3 507.8,307.6 508.1,323.8 508.4,315.8 508.7,334.3M536.8,340.8 537.1,327.7 537.4,336.7 537.7,318.5 538.0,331.8 538.3,308.2 538.6,322.9 538.9,307.3 539.2,328.9 539.5,314.1 539.8,332.6 540.1,329.9 540.4,335.1"/>
</g>
<path d="M55.0,30.5V356.0M54.5,355.5H588.4" stroke="#000" stroke-width="1" fill="none"/>
<path d="M70.00,355.5v-5M213.70,355.5v-5M357.40,355.5v-5M501.10,355.5v-5M55.0,346.50h5M55.0,294.97h5M55.0,243.44h5M55.0,191.91h5M55.0,140.38h5M55.0,88.85h5M55.0,37.32h5" stroke="#000" stroke-width="1" fill="none"/>
<rect x="468" y="41.5" width="102.60000000000002" height="103.5" fill="#fff" stroke="#000" stroke-width="1"/>
<path d="M473.5,54.5H510" stroke="#009AFA" stroke-width="1"/>
<path d="M473.5,67.5H510" stroke="#E36F47" stroke-width="1"/>
<path d="M473.5,80.5H510" stroke="#3EA44E" stroke-width="1"/>
<path d="M473.5,93.5H510" stroke="#C371D2" stroke-width="1"/>
<path d="M473.5,106.5H510" stroke="#AC8E18" stroke-width="1"/>
<path d="M473.5,119.5H510" stroke="#00AAAE" stroke-width="1"/>
<path d="M473.5,132.5H510" stroke="#ED5E93" stroke-width="1"/>
<g font-family="Liberation Sans, sans-serif" fill="#000" stroke="#000" stroke-width="0.18" opacity="0.999">
<text x="71.10" y="17.6" font-size="19.6" textLength="70.11" lengthAdjust="spacingAndGlyphs">Energy</text>
<text x="150.60" y="17.6" font-size="19.6" textLength="50.14" lengthAdjust="spacingAndGlyphs">Over</text>
<text x="208.00" y="17.6" font-size="19.6" textLength="49.52" lengthAdjust="spacingAndGlyphs">Time</text>
<text x="265.40" y="17.6" font-size="19.6" textLength="28.01" lengthAdjust="spacingAndGlyphs">for</text>
<text x="299.20" y="17.6" font-size="19.6" textLength="67.34" lengthAdjust="spacingAndGlyphs">Modes</text>
<text x="374.20" y="17.6" font-size="19.6" textLength="19.43" lengthAdjust="spacingAndGlyphs">1,</text>
<text x="400.00" y="17.6" font-size="19.6" textLength="19.49" lengthAdjust="spacingAndGlyphs">3,</text>
<text x="426.60" y="17.6" font-size="19.6" textLength="19.23" lengthAdjust="spacingAndGlyphs">5,</text>
<text x="453.00" y="17.6" font-size="19.6" textLength="19.10" lengthAdjust="spacingAndGlyphs">7,</text>
<text x="479.00" y="17.6" font-size="19.6" textLength="19.38" lengthAdjust="spacingAndGlyphs">9,</text>
<text x="506.20" y="17.6" font-size="19.6" textLength="31.62" lengthAdjust="spacingAndGlyphs">11,</text>
<text x="546.20" y="17.6" font-size="19.6" textLength="24.44" lengthAdjust="spacingAndGlyphs">13</text>
<text x="301.8" y="392" font-size="16.2" textLength="40" lengthAdjust="spacingAndGlyphs">Time</text>
<text transform="translate(15.6,221) rotate(-90)" font-size="16.2" textLength="55.5" lengthAdjust="spacingAndGlyphs">Energy</text>
<text x="66.30" y="371.5" font-size="12" textLength="7.40" lengthAdjust="spacingAndGlyphs">0</text>
<text x="198.90" y="371.5" font-size="12" textLength="29.60" lengthAdjust="spacingAndGlyphs">1000</text>
<text x="342.60" y="371.5" font-size="12" textLength="29.60" lengthAdjust="spacingAndGlyphs">2000</text>
<text x="486.30" y="371.5" font-size="12" textLength="29.60" lengthAdjust="spacingAndGlyphs">3000</text>
<text x="28.0" y="350.80" font-size="12" textLength="18.6" lengthAdjust="spacingAndGlyphs">0.0</text>
<text x="28.0" y="299.27" font-size="12" textLength="18.6" lengthAdjust="spacingAndGlyphs">0.1</text>
<text x="28.0" y="247.74" font-size="12" textLength="18.6" lengthAdjust="spacingAndGlyphs">0.2</text>
<text x="28.0" y="196.21" font-size="12" textLength="18.6" lengthAdjust="spacingAndGlyphs">0.3</text>
<text x="28.0" y="144.68" font-size="12" textLength="18.6" lengthAdjust="spacingAndGlyphs">0.4</text>
<text x="28.0" y="93.15" font-size="12" textLength="18.6" lengthAdjust="spacingAndGlyphs">0.5</text>
<text x="28.0" y="41.62" font-size="12" textLength="18.6" lengthAdjust="spacingAndGlyphs">0.6</text>
<text x="514.6" y="58.9" font-size="12.3" textLength="42.6" lengthAdjust="spacingAndGlyphs">Mode 1</text>
<text x="514.6" y="71.9" font-size="12.3" textLength="42.6" lengthAdjust="spacingAndGlyphs">Mode 3</text>
<text x="514.6" y="84.9" font-size="12.3" textLength="42.6" lengthAdjust="spacingAndGlyphs">Mode 5</text>
<text x="514.6" y="97.9" font-size="12.3" textLength="42.6" lengthAdjust="spacingAndGlyphs">Mode 7</text>
<text x="514.6" y="110.9" font-size="12.3" textLength="42.6" lengthAdjust="spacingAndGlyphs">Mode 9</text>
<text x="514.6" y="123.9" font-size="12.3" textLength="50.4" lengthAdjust="spacingAndGlyphs">Mode 11</text>
<text x="514.6" y="136.9" font-size="12.3" textLength="50.4" lengthAdjust="spacingAndGlyphs">Mode 13</text>
</g>
</svg>
</body></html>
